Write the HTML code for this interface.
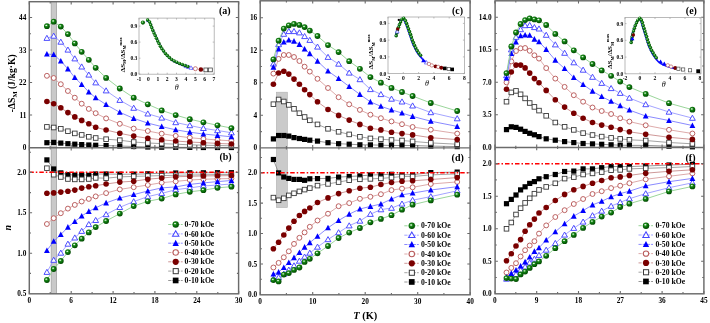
<!DOCTYPE html>
<html><head><meta charset="utf-8"><title>figure</title><style>html,body{margin:0;padding:0;background:#fff;}body{width:710px;height:323px;overflow:hidden;position:relative;font-family:"Liberation Serif", serif;}</style></head><body>
<svg width="710" height="323" viewBox="0 0 710 323" style="position:absolute;left:0;top:0" font-family="'Liberation Serif', serif">
<defs>
<radialGradient id="ggr" cx="0.4" cy="0.38" r="0.62"><stop offset="0" stop-color="#3aa83a"/><stop offset="0.55" stop-color="#0b740b"/><stop offset="1" stop-color="#024802"/></radialGradient>
<g id="gs"><circle r="2.9" fill="url(#ggr)"/><ellipse cx="-0.6" cy="-0.8" rx="1.0" ry="0.65" fill="#e8f8e8"/></g>
<clipPath id="ct0"><rect x="29.3" y="1.7" width="209.29999999999998" height="146.0"/></clipPath>
<clipPath id="cb0"><rect x="29.3" y="147.7" width="209.29999999999998" height="146.10000000000002"/></clipPath>
<clipPath id="ct1"><rect x="260.2" y="0.8" width="209.90000000000003" height="147.04999999999998"/></clipPath>
<clipPath id="cb1"><rect x="260.2" y="147.85" width="209.90000000000003" height="146.95000000000002"/></clipPath>
<clipPath id="ct2"><rect x="495.1" y="0.8" width="208.79999999999995" height="146.6"/></clipPath>
<clipPath id="cb2"><rect x="495.1" y="147.4" width="208.79999999999995" height="146.4"/></clipPath>
<filter id="nolcd" x="0" y="0" width="1" height="1"><feOffset dx="0" dy="0"/></filter>
</defs>
<g filter="url(#nolcd)">
<rect width="710" height="323" fill="#fff"/>
<rect x="51.2" y="1.5" width="5.4" height="292.1" fill="#c9c9c9" stroke="#a3a3a3" stroke-width="0.8"/>
<rect x="276.4" y="92.2" width="11.0" height="115.3" fill="#cacaca" stroke="#b0b0b0" stroke-width="0.6"/>
<g>
<polyline points="46.9,142.7 53.7,142.4 60.8,143.1 67.9,143.7 74.8,144.2 81.7,144.6 88.8,145.0 95.7,145.3 106.1,145.6 119.8,146.0 133.7,146.5 147.8,147.0 161.7,147.2 175.7,147.3 189.8,147.4 203.4,147.5 217.5,147.5 231.4,147.5" fill="none" stroke="#8a8a8a" stroke-width="0.9"/>
<rect x="44.3" y="140.1" width="5.2" height="5.2" fill="#000"/>
<rect x="51.1" y="139.8" width="5.2" height="5.2" fill="#000"/>
<rect x="58.2" y="140.5" width="5.2" height="5.2" fill="#000"/>
<rect x="65.3" y="141.1" width="5.2" height="5.2" fill="#000"/>
<rect x="72.2" y="141.6" width="5.2" height="5.2" fill="#000"/>
<rect x="79.1" y="142.0" width="5.2" height="5.2" fill="#000"/>
<rect x="86.2" y="142.4" width="5.2" height="5.2" fill="#000"/>
<rect x="93.1" y="142.7" width="5.2" height="5.2" fill="#000"/>
<rect x="103.5" y="143.0" width="5.2" height="5.2" fill="#000"/>
<rect x="117.2" y="143.4" width="5.2" height="5.2" fill="#000"/>
<rect x="131.1" y="143.9" width="5.2" height="5.2" fill="#000"/>
<rect x="145.2" y="144.4" width="5.2" height="5.2" fill="#000"/>
<rect x="159.1" y="144.6" width="5.2" height="5.2" fill="#000"/>
<rect x="173.1" y="144.7" width="5.2" height="5.2" fill="#000"/>
<rect x="187.2" y="144.8" width="5.2" height="5.2" fill="#000"/>
<rect x="200.8" y="144.9" width="5.2" height="5.2" fill="#000"/>
<rect x="214.9" y="144.9" width="5.2" height="5.2" fill="#000"/>
<rect x="228.8" y="144.9" width="5.2" height="5.2" fill="#000"/>
</g>
<g clip-path="url(#cb0)">
<polyline points="46.9,159.9 53.7,169.0 60.8,172.9 67.9,174.7 74.8,175.1 81.7,174.7 88.8,175.3 95.7,174.0 106.1,174.0 119.8,174.2 133.7,174.2 147.8,173.8 161.7,173.2 175.7,173.0 189.8,172.8 203.4,172.8 217.5,172.7 231.4,172.7" fill="none" stroke="#8a8a8a" stroke-width="0.9"/>
<rect x="44.3" y="157.3" width="5.2" height="5.2" fill="#000"/>
<rect x="51.1" y="166.4" width="5.2" height="5.2" fill="#000"/>
<rect x="58.2" y="170.3" width="5.2" height="5.2" fill="#000"/>
<rect x="65.3" y="172.1" width="5.2" height="5.2" fill="#000"/>
<rect x="72.2" y="172.5" width="5.2" height="5.2" fill="#000"/>
<rect x="79.1" y="172.1" width="5.2" height="5.2" fill="#000"/>
<rect x="86.2" y="172.7" width="5.2" height="5.2" fill="#000"/>
<rect x="93.1" y="171.4" width="5.2" height="5.2" fill="#000"/>
<rect x="103.5" y="171.4" width="5.2" height="5.2" fill="#000"/>
<rect x="117.2" y="171.6" width="5.2" height="5.2" fill="#000"/>
<rect x="131.1" y="171.6" width="5.2" height="5.2" fill="#000"/>
<rect x="145.2" y="171.2" width="5.2" height="5.2" fill="#000"/>
<rect x="159.1" y="170.6" width="5.2" height="5.2" fill="#000"/>
<rect x="173.1" y="170.4" width="5.2" height="5.2" fill="#000"/>
<rect x="187.2" y="170.2" width="5.2" height="5.2" fill="#000"/>
<rect x="200.8" y="170.2" width="5.2" height="5.2" fill="#000"/>
<rect x="214.9" y="170.1" width="5.2" height="5.2" fill="#000"/>
<rect x="228.8" y="170.1" width="5.2" height="5.2" fill="#000"/>
</g>
<g>
<polyline points="273.4,138.9 278.6,135.5 283.8,135.5 288.8,136.1 294.0,137.6 299.4,138.5 304.6,139.4 309.8,140.2 317.5,141.1 328.0,142.7 338.6,143.7 349.2,144.2 359.9,144.8 370.4,144.9 380.9,145.2 391.5,145.5 402.0,145.5 412.6,145.5 430.8,146.1 457.2,146.6" fill="none" stroke="#8a8a8a" stroke-width="0.9"/>
<rect x="270.8" y="136.3" width="5.2" height="5.2" fill="#000"/>
<rect x="276.0" y="132.9" width="5.2" height="5.2" fill="#000"/>
<rect x="281.2" y="132.9" width="5.2" height="5.2" fill="#000"/>
<rect x="286.2" y="133.5" width="5.2" height="5.2" fill="#000"/>
<rect x="291.4" y="135.0" width="5.2" height="5.2" fill="#000"/>
<rect x="296.8" y="135.9" width="5.2" height="5.2" fill="#000"/>
<rect x="302.0" y="136.8" width="5.2" height="5.2" fill="#000"/>
<rect x="307.2" y="137.6" width="5.2" height="5.2" fill="#000"/>
<rect x="314.9" y="138.5" width="5.2" height="5.2" fill="#000"/>
<rect x="325.4" y="140.1" width="5.2" height="5.2" fill="#000"/>
<rect x="336.0" y="141.1" width="5.2" height="5.2" fill="#000"/>
<rect x="346.6" y="141.6" width="5.2" height="5.2" fill="#000"/>
<rect x="357.3" y="142.2" width="5.2" height="5.2" fill="#000"/>
<rect x="367.8" y="142.3" width="5.2" height="5.2" fill="#000"/>
<rect x="378.3" y="142.6" width="5.2" height="5.2" fill="#000"/>
<rect x="388.9" y="142.9" width="5.2" height="5.2" fill="#000"/>
<rect x="399.4" y="142.9" width="5.2" height="5.2" fill="#000"/>
<rect x="410.0" y="142.9" width="5.2" height="5.2" fill="#000"/>
<rect x="428.2" y="143.5" width="5.2" height="5.2" fill="#000"/>
<rect x="454.6" y="144.0" width="5.2" height="5.2" fill="#000"/>
</g>
<g clip-path="url(#cb1)">
<polyline points="273.4,159.5 278.6,172.9 283.8,177.0 288.8,178.4 294.0,179.4 299.4,179.4 304.6,180.3 309.8,178.8 317.5,178.6 328.0,178.4 338.6,177.1 349.2,176.5 359.9,175.9 370.4,175.0 380.9,174.7 391.5,174.3 402.0,174.7 412.6,174.7 430.8,172.6 457.2,172.1" fill="none" stroke="#8a8a8a" stroke-width="0.9"/>
<rect x="270.8" y="156.9" width="5.2" height="5.2" fill="#000"/>
<rect x="276.0" y="170.3" width="5.2" height="5.2" fill="#000"/>
<rect x="281.2" y="174.4" width="5.2" height="5.2" fill="#000"/>
<rect x="286.2" y="175.8" width="5.2" height="5.2" fill="#000"/>
<rect x="291.4" y="176.8" width="5.2" height="5.2" fill="#000"/>
<rect x="296.8" y="176.8" width="5.2" height="5.2" fill="#000"/>
<rect x="302.0" y="177.7" width="5.2" height="5.2" fill="#000"/>
<rect x="307.2" y="176.2" width="5.2" height="5.2" fill="#000"/>
<rect x="314.9" y="176.0" width="5.2" height="5.2" fill="#000"/>
<rect x="325.4" y="175.8" width="5.2" height="5.2" fill="#000"/>
<rect x="336.0" y="174.5" width="5.2" height="5.2" fill="#000"/>
<rect x="346.6" y="173.9" width="5.2" height="5.2" fill="#000"/>
<rect x="357.3" y="173.3" width="5.2" height="5.2" fill="#000"/>
<rect x="367.8" y="172.4" width="5.2" height="5.2" fill="#000"/>
<rect x="378.3" y="172.1" width="5.2" height="5.2" fill="#000"/>
<rect x="388.9" y="171.7" width="5.2" height="5.2" fill="#000"/>
<rect x="399.4" y="172.1" width="5.2" height="5.2" fill="#000"/>
<rect x="410.0" y="172.1" width="5.2" height="5.2" fill="#000"/>
<rect x="428.2" y="170.0" width="5.2" height="5.2" fill="#000"/>
<rect x="454.6" y="169.5" width="5.2" height="5.2" fill="#000"/>
</g>
<g>
<polyline points="506.5,129.6 511.3,126.8 516.0,127.4 520.6,129.2 525.1,131.4 529.7,133.3 534.4,134.8 539.0,136.6 546.2,138.8 555.3,140.2 564.6,141.6 573.8,142.6 583.1,143.5 592.5,143.9 601.7,144.3 611.1,144.8 620.2,145.2 629.4,145.4 645.7,145.4 669.0,146.2 692.4,146.8" fill="none" stroke="#8a8a8a" stroke-width="0.9"/>
<rect x="503.9" y="127.0" width="5.2" height="5.2" fill="#000"/>
<rect x="508.7" y="124.2" width="5.2" height="5.2" fill="#000"/>
<rect x="513.4" y="124.8" width="5.2" height="5.2" fill="#000"/>
<rect x="518.0" y="126.6" width="5.2" height="5.2" fill="#000"/>
<rect x="522.5" y="128.8" width="5.2" height="5.2" fill="#000"/>
<rect x="527.1" y="130.7" width="5.2" height="5.2" fill="#000"/>
<rect x="531.8" y="132.2" width="5.2" height="5.2" fill="#000"/>
<rect x="536.4" y="134.0" width="5.2" height="5.2" fill="#000"/>
<rect x="543.6" y="136.2" width="5.2" height="5.2" fill="#000"/>
<rect x="552.7" y="137.6" width="5.2" height="5.2" fill="#000"/>
<rect x="562.0" y="139.0" width="5.2" height="5.2" fill="#000"/>
<rect x="571.2" y="140.0" width="5.2" height="5.2" fill="#000"/>
<rect x="580.5" y="140.9" width="5.2" height="5.2" fill="#000"/>
<rect x="589.9" y="141.3" width="5.2" height="5.2" fill="#000"/>
<rect x="599.1" y="141.7" width="5.2" height="5.2" fill="#000"/>
<rect x="608.5" y="142.2" width="5.2" height="5.2" fill="#000"/>
<rect x="617.6" y="142.6" width="5.2" height="5.2" fill="#000"/>
<rect x="626.8" y="142.8" width="5.2" height="5.2" fill="#000"/>
<rect x="643.1" y="142.8" width="5.2" height="5.2" fill="#000"/>
<rect x="666.4" y="143.6" width="5.2" height="5.2" fill="#000"/>
<rect x="689.8" y="144.2" width="5.2" height="5.2" fill="#000"/>
</g>
<g clip-path="url(#cb2)">
<polyline points="506.5,203.7 511.3,199.4 516.0,195.0 520.6,189.9 525.1,186.8 529.7,183.4 534.4,181.6 539.0,178.8 546.2,176.7 555.3,174.5 564.6,171.5 573.8,171.1 583.1,168.9 592.5,168.9 601.7,167.7 611.1,166.5 620.2,166.5 629.4,166.5 645.7,166.0 669.0,165.0 692.4,164.3" fill="none" stroke="#8a8a8a" stroke-width="0.9"/>
<rect x="503.9" y="201.1" width="5.2" height="5.2" fill="#000"/>
<rect x="508.7" y="196.8" width="5.2" height="5.2" fill="#000"/>
<rect x="513.4" y="192.4" width="5.2" height="5.2" fill="#000"/>
<rect x="518.0" y="187.3" width="5.2" height="5.2" fill="#000"/>
<rect x="522.5" y="184.2" width="5.2" height="5.2" fill="#000"/>
<rect x="527.1" y="180.8" width="5.2" height="5.2" fill="#000"/>
<rect x="531.8" y="179.0" width="5.2" height="5.2" fill="#000"/>
<rect x="536.4" y="176.2" width="5.2" height="5.2" fill="#000"/>
<rect x="543.6" y="174.1" width="5.2" height="5.2" fill="#000"/>
<rect x="552.7" y="171.9" width="5.2" height="5.2" fill="#000"/>
<rect x="562.0" y="168.9" width="5.2" height="5.2" fill="#000"/>
<rect x="571.2" y="168.5" width="5.2" height="5.2" fill="#000"/>
<rect x="580.5" y="166.3" width="5.2" height="5.2" fill="#000"/>
<rect x="589.9" y="166.3" width="5.2" height="5.2" fill="#000"/>
<rect x="599.1" y="165.1" width="5.2" height="5.2" fill="#000"/>
<rect x="608.5" y="163.9" width="5.2" height="5.2" fill="#000"/>
<rect x="617.6" y="163.9" width="5.2" height="5.2" fill="#000"/>
<rect x="626.8" y="163.9" width="5.2" height="5.2" fill="#000"/>
<rect x="643.1" y="163.4" width="5.2" height="5.2" fill="#000"/>
<rect x="666.4" y="162.4" width="5.2" height="5.2" fill="#000"/>
<rect x="689.8" y="161.7" width="5.2" height="5.2" fill="#000"/>
</g>
<g>
<polyline points="46.9,126.9 53.7,127.5 60.8,128.8 67.9,131.2 74.8,133.4 81.7,134.9 88.8,136.8 95.7,138.0 106.1,139.2 119.8,140.2 133.7,142.0 147.8,143.0 161.7,143.6 175.7,144.2 189.8,144.8 203.4,145.2 217.5,145.5 231.4,145.8" fill="none" stroke="#9a9a9a" stroke-width="0.9"/>
<rect x="44.6" y="124.6" width="4.6" height="4.6" fill="#fff" stroke="#3a3a3a" stroke-width="0.90"/>
<rect x="51.4" y="125.2" width="4.6" height="4.6" fill="#fff" stroke="#3a3a3a" stroke-width="0.90"/>
<rect x="58.5" y="126.5" width="4.6" height="4.6" fill="#fff" stroke="#3a3a3a" stroke-width="0.90"/>
<rect x="65.6" y="128.9" width="4.6" height="4.6" fill="#fff" stroke="#3a3a3a" stroke-width="0.90"/>
<rect x="72.5" y="131.1" width="4.6" height="4.6" fill="#fff" stroke="#3a3a3a" stroke-width="0.90"/>
<rect x="79.4" y="132.6" width="4.6" height="4.6" fill="#fff" stroke="#3a3a3a" stroke-width="0.90"/>
<rect x="86.5" y="134.5" width="4.6" height="4.6" fill="#fff" stroke="#3a3a3a" stroke-width="0.90"/>
<rect x="93.4" y="135.7" width="4.6" height="4.6" fill="#fff" stroke="#3a3a3a" stroke-width="0.90"/>
<rect x="103.8" y="136.9" width="4.6" height="4.6" fill="#fff" stroke="#3a3a3a" stroke-width="0.90"/>
<rect x="117.5" y="137.9" width="4.6" height="4.6" fill="#fff" stroke="#3a3a3a" stroke-width="0.90"/>
<rect x="131.4" y="139.7" width="4.6" height="4.6" fill="#fff" stroke="#3a3a3a" stroke-width="0.90"/>
<rect x="145.5" y="140.7" width="4.6" height="4.6" fill="#fff" stroke="#3a3a3a" stroke-width="0.90"/>
<rect x="159.4" y="141.3" width="4.6" height="4.6" fill="#fff" stroke="#3a3a3a" stroke-width="0.90"/>
<rect x="173.4" y="141.9" width="4.6" height="4.6" fill="#fff" stroke="#3a3a3a" stroke-width="0.90"/>
<rect x="187.5" y="142.5" width="4.6" height="4.6" fill="#fff" stroke="#3a3a3a" stroke-width="0.90"/>
<rect x="201.1" y="142.9" width="4.6" height="4.6" fill="#fff" stroke="#3a3a3a" stroke-width="0.90"/>
<rect x="215.2" y="143.2" width="4.6" height="4.6" fill="#fff" stroke="#3a3a3a" stroke-width="0.90"/>
<rect x="229.1" y="143.5" width="4.6" height="4.6" fill="#fff" stroke="#3a3a3a" stroke-width="0.90"/>
</g>
<g clip-path="url(#cb0)">
<polyline points="46.9,168.2 53.7,174.7 60.8,177.0 67.9,179.0 74.8,179.4 81.7,179.4 88.8,179.0 95.7,177.9 106.1,178.2 119.8,176.9 133.7,176.4 147.8,176.0 161.7,175.6 175.7,175.3 189.8,175.0 203.4,174.8 217.5,174.6 231.4,174.5" fill="none" stroke="#9a9a9a" stroke-width="0.9"/>
<rect x="44.6" y="165.9" width="4.6" height="4.6" fill="#fff" stroke="#3a3a3a" stroke-width="0.90"/>
<rect x="51.4" y="172.4" width="4.6" height="4.6" fill="#fff" stroke="#3a3a3a" stroke-width="0.90"/>
<rect x="58.5" y="174.7" width="4.6" height="4.6" fill="#fff" stroke="#3a3a3a" stroke-width="0.90"/>
<rect x="65.6" y="176.7" width="4.6" height="4.6" fill="#fff" stroke="#3a3a3a" stroke-width="0.90"/>
<rect x="72.5" y="177.1" width="4.6" height="4.6" fill="#fff" stroke="#3a3a3a" stroke-width="0.90"/>
<rect x="79.4" y="177.1" width="4.6" height="4.6" fill="#fff" stroke="#3a3a3a" stroke-width="0.90"/>
<rect x="86.5" y="176.7" width="4.6" height="4.6" fill="#fff" stroke="#3a3a3a" stroke-width="0.90"/>
<rect x="93.4" y="175.6" width="4.6" height="4.6" fill="#fff" stroke="#3a3a3a" stroke-width="0.90"/>
<rect x="103.8" y="175.9" width="4.6" height="4.6" fill="#fff" stroke="#3a3a3a" stroke-width="0.90"/>
<rect x="117.5" y="174.6" width="4.6" height="4.6" fill="#fff" stroke="#3a3a3a" stroke-width="0.90"/>
<rect x="131.4" y="174.1" width="4.6" height="4.6" fill="#fff" stroke="#3a3a3a" stroke-width="0.90"/>
<rect x="145.5" y="173.7" width="4.6" height="4.6" fill="#fff" stroke="#3a3a3a" stroke-width="0.90"/>
<rect x="159.4" y="173.3" width="4.6" height="4.6" fill="#fff" stroke="#3a3a3a" stroke-width="0.90"/>
<rect x="173.4" y="173.0" width="4.6" height="4.6" fill="#fff" stroke="#3a3a3a" stroke-width="0.90"/>
<rect x="187.5" y="172.7" width="4.6" height="4.6" fill="#fff" stroke="#3a3a3a" stroke-width="0.90"/>
<rect x="201.1" y="172.5" width="4.6" height="4.6" fill="#fff" stroke="#3a3a3a" stroke-width="0.90"/>
<rect x="215.2" y="172.3" width="4.6" height="4.6" fill="#fff" stroke="#3a3a3a" stroke-width="0.90"/>
<rect x="229.1" y="172.2" width="4.6" height="4.6" fill="#fff" stroke="#3a3a3a" stroke-width="0.90"/>
</g>
<g>
<polyline points="273.4,104.2 278.6,99.5 283.8,101.5 288.8,104.9 294.0,108.8 299.4,113.2 304.6,117.0 309.8,120.3 317.5,124.4 328.0,128.8 338.6,131.8 349.2,134.4 359.9,136.8 370.4,138.4 380.9,139.2 391.5,140.0 402.0,140.5 412.6,141.4 430.8,142.9 457.2,144.2" fill="none" stroke="#9a9a9a" stroke-width="0.9"/>
<rect x="271.1" y="101.9" width="4.6" height="4.6" fill="#fff" stroke="#3a3a3a" stroke-width="0.90"/>
<rect x="276.3" y="97.2" width="4.6" height="4.6" fill="#fff" stroke="#3a3a3a" stroke-width="0.90"/>
<rect x="281.5" y="99.2" width="4.6" height="4.6" fill="#fff" stroke="#3a3a3a" stroke-width="0.90"/>
<rect x="286.5" y="102.6" width="4.6" height="4.6" fill="#fff" stroke="#3a3a3a" stroke-width="0.90"/>
<rect x="291.7" y="106.5" width="4.6" height="4.6" fill="#fff" stroke="#3a3a3a" stroke-width="0.90"/>
<rect x="297.1" y="110.9" width="4.6" height="4.6" fill="#fff" stroke="#3a3a3a" stroke-width="0.90"/>
<rect x="302.3" y="114.7" width="4.6" height="4.6" fill="#fff" stroke="#3a3a3a" stroke-width="0.90"/>
<rect x="307.5" y="118.0" width="4.6" height="4.6" fill="#fff" stroke="#3a3a3a" stroke-width="0.90"/>
<rect x="315.2" y="122.1" width="4.6" height="4.6" fill="#fff" stroke="#3a3a3a" stroke-width="0.90"/>
<rect x="325.7" y="126.5" width="4.6" height="4.6" fill="#fff" stroke="#3a3a3a" stroke-width="0.90"/>
<rect x="336.3" y="129.5" width="4.6" height="4.6" fill="#fff" stroke="#3a3a3a" stroke-width="0.90"/>
<rect x="346.9" y="132.1" width="4.6" height="4.6" fill="#fff" stroke="#3a3a3a" stroke-width="0.90"/>
<rect x="357.6" y="134.5" width="4.6" height="4.6" fill="#fff" stroke="#3a3a3a" stroke-width="0.90"/>
<rect x="368.1" y="136.1" width="4.6" height="4.6" fill="#fff" stroke="#3a3a3a" stroke-width="0.90"/>
<rect x="378.6" y="136.9" width="4.6" height="4.6" fill="#fff" stroke="#3a3a3a" stroke-width="0.90"/>
<rect x="389.2" y="137.7" width="4.6" height="4.6" fill="#fff" stroke="#3a3a3a" stroke-width="0.90"/>
<rect x="399.7" y="138.2" width="4.6" height="4.6" fill="#fff" stroke="#3a3a3a" stroke-width="0.90"/>
<rect x="410.3" y="139.1" width="4.6" height="4.6" fill="#fff" stroke="#3a3a3a" stroke-width="0.90"/>
<rect x="428.5" y="140.6" width="4.6" height="4.6" fill="#fff" stroke="#3a3a3a" stroke-width="0.90"/>
<rect x="454.9" y="141.9" width="4.6" height="4.6" fill="#fff" stroke="#3a3a3a" stroke-width="0.90"/>
</g>
<g clip-path="url(#cb1)">
<polyline points="273.4,197.6 278.6,200.3 283.8,198.3 288.8,195.4 294.0,193.3 299.4,191.4 304.6,189.6 309.8,188.1 317.5,185.6 328.0,183.9 338.6,182.1 349.2,180.2 359.9,179.3 370.4,178.9 380.9,178.4 391.5,177.6 402.0,176.5 412.6,176.5 430.8,174.9 457.2,173.9" fill="none" stroke="#9a9a9a" stroke-width="0.9"/>
<rect x="271.1" y="195.3" width="4.6" height="4.6" fill="#fff" stroke="#3a3a3a" stroke-width="0.90"/>
<rect x="276.3" y="198.0" width="4.6" height="4.6" fill="#fff" stroke="#3a3a3a" stroke-width="0.90"/>
<rect x="281.5" y="196.0" width="4.6" height="4.6" fill="#fff" stroke="#3a3a3a" stroke-width="0.90"/>
<rect x="286.5" y="193.1" width="4.6" height="4.6" fill="#fff" stroke="#3a3a3a" stroke-width="0.90"/>
<rect x="291.7" y="191.0" width="4.6" height="4.6" fill="#fff" stroke="#3a3a3a" stroke-width="0.90"/>
<rect x="297.1" y="189.1" width="4.6" height="4.6" fill="#fff" stroke="#3a3a3a" stroke-width="0.90"/>
<rect x="302.3" y="187.3" width="4.6" height="4.6" fill="#fff" stroke="#3a3a3a" stroke-width="0.90"/>
<rect x="307.5" y="185.8" width="4.6" height="4.6" fill="#fff" stroke="#3a3a3a" stroke-width="0.90"/>
<rect x="315.2" y="183.3" width="4.6" height="4.6" fill="#fff" stroke="#3a3a3a" stroke-width="0.90"/>
<rect x="325.7" y="181.6" width="4.6" height="4.6" fill="#fff" stroke="#3a3a3a" stroke-width="0.90"/>
<rect x="336.3" y="179.8" width="4.6" height="4.6" fill="#fff" stroke="#3a3a3a" stroke-width="0.90"/>
<rect x="346.9" y="177.9" width="4.6" height="4.6" fill="#fff" stroke="#3a3a3a" stroke-width="0.90"/>
<rect x="357.6" y="177.0" width="4.6" height="4.6" fill="#fff" stroke="#3a3a3a" stroke-width="0.90"/>
<rect x="368.1" y="176.6" width="4.6" height="4.6" fill="#fff" stroke="#3a3a3a" stroke-width="0.90"/>
<rect x="378.6" y="176.1" width="4.6" height="4.6" fill="#fff" stroke="#3a3a3a" stroke-width="0.90"/>
<rect x="389.2" y="175.3" width="4.6" height="4.6" fill="#fff" stroke="#3a3a3a" stroke-width="0.90"/>
<rect x="399.7" y="174.2" width="4.6" height="4.6" fill="#fff" stroke="#3a3a3a" stroke-width="0.90"/>
<rect x="410.3" y="174.2" width="4.6" height="4.6" fill="#fff" stroke="#3a3a3a" stroke-width="0.90"/>
<rect x="428.5" y="172.6" width="4.6" height="4.6" fill="#fff" stroke="#3a3a3a" stroke-width="0.90"/>
<rect x="454.9" y="171.6" width="4.6" height="4.6" fill="#fff" stroke="#3a3a3a" stroke-width="0.90"/>
</g>
<g>
<polyline points="506.5,101.7 511.3,92.4 516.0,90.9 520.6,94.3 525.1,98.4 529.7,103.0 534.4,106.9 539.0,110.6 546.2,115.8 555.3,122.5 564.6,126.8 573.8,129.9 583.1,133.1 592.5,135.0 601.7,136.6 611.1,137.9 620.2,138.9 629.4,139.8 645.7,140.5 669.0,142.5 692.4,143.8" fill="none" stroke="#9a9a9a" stroke-width="0.9"/>
<rect x="504.2" y="99.4" width="4.6" height="4.6" fill="#fff" stroke="#3a3a3a" stroke-width="0.90"/>
<rect x="509.0" y="90.1" width="4.6" height="4.6" fill="#fff" stroke="#3a3a3a" stroke-width="0.90"/>
<rect x="513.7" y="88.6" width="4.6" height="4.6" fill="#fff" stroke="#3a3a3a" stroke-width="0.90"/>
<rect x="518.3" y="92.0" width="4.6" height="4.6" fill="#fff" stroke="#3a3a3a" stroke-width="0.90"/>
<rect x="522.8" y="96.1" width="4.6" height="4.6" fill="#fff" stroke="#3a3a3a" stroke-width="0.90"/>
<rect x="527.4" y="100.7" width="4.6" height="4.6" fill="#fff" stroke="#3a3a3a" stroke-width="0.90"/>
<rect x="532.1" y="104.6" width="4.6" height="4.6" fill="#fff" stroke="#3a3a3a" stroke-width="0.90"/>
<rect x="536.7" y="108.3" width="4.6" height="4.6" fill="#fff" stroke="#3a3a3a" stroke-width="0.90"/>
<rect x="543.9" y="113.5" width="4.6" height="4.6" fill="#fff" stroke="#3a3a3a" stroke-width="0.90"/>
<rect x="553.0" y="120.2" width="4.6" height="4.6" fill="#fff" stroke="#3a3a3a" stroke-width="0.90"/>
<rect x="562.3" y="124.5" width="4.6" height="4.6" fill="#fff" stroke="#3a3a3a" stroke-width="0.90"/>
<rect x="571.5" y="127.6" width="4.6" height="4.6" fill="#fff" stroke="#3a3a3a" stroke-width="0.90"/>
<rect x="580.8" y="130.8" width="4.6" height="4.6" fill="#fff" stroke="#3a3a3a" stroke-width="0.90"/>
<rect x="590.2" y="132.7" width="4.6" height="4.6" fill="#fff" stroke="#3a3a3a" stroke-width="0.90"/>
<rect x="599.4" y="134.3" width="4.6" height="4.6" fill="#fff" stroke="#3a3a3a" stroke-width="0.90"/>
<rect x="608.8" y="135.6" width="4.6" height="4.6" fill="#fff" stroke="#3a3a3a" stroke-width="0.90"/>
<rect x="617.9" y="136.6" width="4.6" height="4.6" fill="#fff" stroke="#3a3a3a" stroke-width="0.90"/>
<rect x="627.1" y="137.5" width="4.6" height="4.6" fill="#fff" stroke="#3a3a3a" stroke-width="0.90"/>
<rect x="643.4" y="138.2" width="4.6" height="4.6" fill="#fff" stroke="#3a3a3a" stroke-width="0.90"/>
<rect x="666.7" y="140.2" width="4.6" height="4.6" fill="#fff" stroke="#3a3a3a" stroke-width="0.90"/>
<rect x="690.1" y="141.5" width="4.6" height="4.6" fill="#fff" stroke="#3a3a3a" stroke-width="0.90"/>
</g>
<g clip-path="url(#cb2)">
<polyline points="506.5,228.8 511.3,222.5 516.0,214.5 520.6,208.2 525.1,202.9 529.7,198.3 534.4,193.7 539.0,189.9 546.2,186.9 555.3,183.3 564.6,178.6 573.8,177.1 583.1,174.5 592.5,173.4 601.7,172.1 611.1,170.2 620.2,169.9 629.4,168.9 645.7,168.3 669.0,167.6 692.4,166.5" fill="none" stroke="#9a9a9a" stroke-width="0.9"/>
<rect x="504.2" y="226.5" width="4.6" height="4.6" fill="#fff" stroke="#3a3a3a" stroke-width="0.90"/>
<rect x="509.0" y="220.2" width="4.6" height="4.6" fill="#fff" stroke="#3a3a3a" stroke-width="0.90"/>
<rect x="513.7" y="212.2" width="4.6" height="4.6" fill="#fff" stroke="#3a3a3a" stroke-width="0.90"/>
<rect x="518.3" y="205.9" width="4.6" height="4.6" fill="#fff" stroke="#3a3a3a" stroke-width="0.90"/>
<rect x="522.8" y="200.6" width="4.6" height="4.6" fill="#fff" stroke="#3a3a3a" stroke-width="0.90"/>
<rect x="527.4" y="196.0" width="4.6" height="4.6" fill="#fff" stroke="#3a3a3a" stroke-width="0.90"/>
<rect x="532.1" y="191.4" width="4.6" height="4.6" fill="#fff" stroke="#3a3a3a" stroke-width="0.90"/>
<rect x="536.7" y="187.6" width="4.6" height="4.6" fill="#fff" stroke="#3a3a3a" stroke-width="0.90"/>
<rect x="543.9" y="184.6" width="4.6" height="4.6" fill="#fff" stroke="#3a3a3a" stroke-width="0.90"/>
<rect x="553.0" y="181.0" width="4.6" height="4.6" fill="#fff" stroke="#3a3a3a" stroke-width="0.90"/>
<rect x="562.3" y="176.3" width="4.6" height="4.6" fill="#fff" stroke="#3a3a3a" stroke-width="0.90"/>
<rect x="571.5" y="174.8" width="4.6" height="4.6" fill="#fff" stroke="#3a3a3a" stroke-width="0.90"/>
<rect x="580.8" y="172.2" width="4.6" height="4.6" fill="#fff" stroke="#3a3a3a" stroke-width="0.90"/>
<rect x="590.2" y="171.1" width="4.6" height="4.6" fill="#fff" stroke="#3a3a3a" stroke-width="0.90"/>
<rect x="599.4" y="169.8" width="4.6" height="4.6" fill="#fff" stroke="#3a3a3a" stroke-width="0.90"/>
<rect x="608.8" y="167.9" width="4.6" height="4.6" fill="#fff" stroke="#3a3a3a" stroke-width="0.90"/>
<rect x="617.9" y="167.6" width="4.6" height="4.6" fill="#fff" stroke="#3a3a3a" stroke-width="0.90"/>
<rect x="627.1" y="166.6" width="4.6" height="4.6" fill="#fff" stroke="#3a3a3a" stroke-width="0.90"/>
<rect x="643.4" y="166.0" width="4.6" height="4.6" fill="#fff" stroke="#3a3a3a" stroke-width="0.90"/>
<rect x="666.7" y="165.3" width="4.6" height="4.6" fill="#fff" stroke="#3a3a3a" stroke-width="0.90"/>
<rect x="690.1" y="164.2" width="4.6" height="4.6" fill="#fff" stroke="#3a3a3a" stroke-width="0.90"/>
</g>
<g>
<polyline points="46.9,75.8 53.7,78.0 60.8,84.2 67.9,91.0 74.8,97.7 81.7,103.7 88.8,108.9 95.7,113.2 106.1,118.4 119.8,123.8 133.7,128.6 147.8,131.0 161.7,133.7 175.7,135.9 189.8,137.7 203.4,138.9 217.5,140.0 231.4,140.8" fill="none" stroke="#d9a0a0" stroke-width="0.9"/>
<circle cx="46.9" cy="75.8" r="2.45" fill="#fff" stroke="#b85a5a" stroke-width="0.95"/>
<circle cx="53.7" cy="78.0" r="2.45" fill="#fff" stroke="#b85a5a" stroke-width="0.95"/>
<circle cx="60.8" cy="84.2" r="2.45" fill="#fff" stroke="#b85a5a" stroke-width="0.95"/>
<circle cx="67.9" cy="91.0" r="2.45" fill="#fff" stroke="#b85a5a" stroke-width="0.95"/>
<circle cx="74.8" cy="97.7" r="2.45" fill="#fff" stroke="#b85a5a" stroke-width="0.95"/>
<circle cx="81.7" cy="103.7" r="2.45" fill="#fff" stroke="#b85a5a" stroke-width="0.95"/>
<circle cx="88.8" cy="108.9" r="2.45" fill="#fff" stroke="#b85a5a" stroke-width="0.95"/>
<circle cx="95.7" cy="113.2" r="2.45" fill="#fff" stroke="#b85a5a" stroke-width="0.95"/>
<circle cx="106.1" cy="118.4" r="2.45" fill="#fff" stroke="#b85a5a" stroke-width="0.95"/>
<circle cx="119.8" cy="123.8" r="2.45" fill="#fff" stroke="#b85a5a" stroke-width="0.95"/>
<circle cx="133.7" cy="128.6" r="2.45" fill="#fff" stroke="#b85a5a" stroke-width="0.95"/>
<circle cx="147.8" cy="131.0" r="2.45" fill="#fff" stroke="#b85a5a" stroke-width="0.95"/>
<circle cx="161.7" cy="133.7" r="2.45" fill="#fff" stroke="#b85a5a" stroke-width="0.95"/>
<circle cx="175.7" cy="135.9" r="2.45" fill="#fff" stroke="#b85a5a" stroke-width="0.95"/>
<circle cx="189.8" cy="137.7" r="2.45" fill="#fff" stroke="#b85a5a" stroke-width="0.95"/>
<circle cx="203.4" cy="138.9" r="2.45" fill="#fff" stroke="#b85a5a" stroke-width="0.95"/>
<circle cx="217.5" cy="140.0" r="2.45" fill="#fff" stroke="#b85a5a" stroke-width="0.95"/>
<circle cx="231.4" cy="140.8" r="2.45" fill="#fff" stroke="#b85a5a" stroke-width="0.95"/>
</g>
<g clip-path="url(#cb0)">
<polyline points="46.9,224.0 53.7,218.2 60.8,213.2 67.9,208.6 74.8,204.9 81.7,201.5 88.8,198.9 95.7,196.4 106.1,193.1 119.8,189.4 133.7,187.2 147.8,185.0 161.7,182.7 175.7,181.4 189.8,180.0 203.4,179.3 217.5,178.8 231.4,178.5" fill="none" stroke="#d9a0a0" stroke-width="0.9"/>
<circle cx="46.9" cy="224.0" r="2.45" fill="#fff" stroke="#b85a5a" stroke-width="0.95"/>
<circle cx="53.7" cy="218.2" r="2.45" fill="#fff" stroke="#b85a5a" stroke-width="0.95"/>
<circle cx="60.8" cy="213.2" r="2.45" fill="#fff" stroke="#b85a5a" stroke-width="0.95"/>
<circle cx="67.9" cy="208.6" r="2.45" fill="#fff" stroke="#b85a5a" stroke-width="0.95"/>
<circle cx="74.8" cy="204.9" r="2.45" fill="#fff" stroke="#b85a5a" stroke-width="0.95"/>
<circle cx="81.7" cy="201.5" r="2.45" fill="#fff" stroke="#b85a5a" stroke-width="0.95"/>
<circle cx="88.8" cy="198.9" r="2.45" fill="#fff" stroke="#b85a5a" stroke-width="0.95"/>
<circle cx="95.7" cy="196.4" r="2.45" fill="#fff" stroke="#b85a5a" stroke-width="0.95"/>
<circle cx="106.1" cy="193.1" r="2.45" fill="#fff" stroke="#b85a5a" stroke-width="0.95"/>
<circle cx="119.8" cy="189.4" r="2.45" fill="#fff" stroke="#b85a5a" stroke-width="0.95"/>
<circle cx="133.7" cy="187.2" r="2.45" fill="#fff" stroke="#b85a5a" stroke-width="0.95"/>
<circle cx="147.8" cy="185.0" r="2.45" fill="#fff" stroke="#b85a5a" stroke-width="0.95"/>
<circle cx="161.7" cy="182.7" r="2.45" fill="#fff" stroke="#b85a5a" stroke-width="0.95"/>
<circle cx="175.7" cy="181.4" r="2.45" fill="#fff" stroke="#b85a5a" stroke-width="0.95"/>
<circle cx="189.8" cy="180.0" r="2.45" fill="#fff" stroke="#b85a5a" stroke-width="0.95"/>
<circle cx="203.4" cy="179.3" r="2.45" fill="#fff" stroke="#b85a5a" stroke-width="0.95"/>
<circle cx="217.5" cy="178.8" r="2.45" fill="#fff" stroke="#b85a5a" stroke-width="0.95"/>
<circle cx="231.4" cy="178.5" r="2.45" fill="#fff" stroke="#b85a5a" stroke-width="0.95"/>
</g>
<g>
<polyline points="273.4,73.6 278.6,58.9 283.8,55.0 288.8,55.0 294.0,57.0 299.4,61.0 304.6,66.7 309.8,71.6 317.5,78.8 328.0,88.0 338.6,97.2 349.2,104.3 359.9,109.9 370.4,114.7 380.9,118.2 391.5,121.4 402.0,124.2 412.6,127.0 430.8,129.7 457.2,133.6" fill="none" stroke="#d9a0a0" stroke-width="0.9"/>
<circle cx="273.4" cy="73.6" r="2.45" fill="#fff" stroke="#b85a5a" stroke-width="0.95"/>
<circle cx="278.6" cy="58.9" r="2.45" fill="#fff" stroke="#b85a5a" stroke-width="0.95"/>
<circle cx="283.8" cy="55.0" r="2.45" fill="#fff" stroke="#b85a5a" stroke-width="0.95"/>
<circle cx="288.8" cy="55.0" r="2.45" fill="#fff" stroke="#b85a5a" stroke-width="0.95"/>
<circle cx="294.0" cy="57.0" r="2.45" fill="#fff" stroke="#b85a5a" stroke-width="0.95"/>
<circle cx="299.4" cy="61.0" r="2.45" fill="#fff" stroke="#b85a5a" stroke-width="0.95"/>
<circle cx="304.6" cy="66.7" r="2.45" fill="#fff" stroke="#b85a5a" stroke-width="0.95"/>
<circle cx="309.8" cy="71.6" r="2.45" fill="#fff" stroke="#b85a5a" stroke-width="0.95"/>
<circle cx="317.5" cy="78.8" r="2.45" fill="#fff" stroke="#b85a5a" stroke-width="0.95"/>
<circle cx="328.0" cy="88.0" r="2.45" fill="#fff" stroke="#b85a5a" stroke-width="0.95"/>
<circle cx="338.6" cy="97.2" r="2.45" fill="#fff" stroke="#b85a5a" stroke-width="0.95"/>
<circle cx="349.2" cy="104.3" r="2.45" fill="#fff" stroke="#b85a5a" stroke-width="0.95"/>
<circle cx="359.9" cy="109.9" r="2.45" fill="#fff" stroke="#b85a5a" stroke-width="0.95"/>
<circle cx="370.4" cy="114.7" r="2.45" fill="#fff" stroke="#b85a5a" stroke-width="0.95"/>
<circle cx="380.9" cy="118.2" r="2.45" fill="#fff" stroke="#b85a5a" stroke-width="0.95"/>
<circle cx="391.5" cy="121.4" r="2.45" fill="#fff" stroke="#b85a5a" stroke-width="0.95"/>
<circle cx="402.0" cy="124.2" r="2.45" fill="#fff" stroke="#b85a5a" stroke-width="0.95"/>
<circle cx="412.6" cy="127.0" r="2.45" fill="#fff" stroke="#b85a5a" stroke-width="0.95"/>
<circle cx="430.8" cy="129.7" r="2.45" fill="#fff" stroke="#b85a5a" stroke-width="0.95"/>
<circle cx="457.2" cy="133.6" r="2.45" fill="#fff" stroke="#b85a5a" stroke-width="0.95"/>
</g>
<g clip-path="url(#cb1)">
<polyline points="273.4,267.5 278.6,262.9 283.8,257.3 288.8,251.3 294.0,243.9 299.4,237.8 304.6,232.4 309.8,226.8 317.5,220.5 328.0,213.7 338.6,206.2 349.2,203.1 359.9,198.8 370.4,196.8 380.9,194.2 391.5,190.1 402.0,188.6 412.6,187.3 430.8,184.0 457.2,181.9" fill="none" stroke="#d9a0a0" stroke-width="0.9"/>
<circle cx="273.4" cy="267.5" r="2.45" fill="#fff" stroke="#b85a5a" stroke-width="0.95"/>
<circle cx="278.6" cy="262.9" r="2.45" fill="#fff" stroke="#b85a5a" stroke-width="0.95"/>
<circle cx="283.8" cy="257.3" r="2.45" fill="#fff" stroke="#b85a5a" stroke-width="0.95"/>
<circle cx="288.8" cy="251.3" r="2.45" fill="#fff" stroke="#b85a5a" stroke-width="0.95"/>
<circle cx="294.0" cy="243.9" r="2.45" fill="#fff" stroke="#b85a5a" stroke-width="0.95"/>
<circle cx="299.4" cy="237.8" r="2.45" fill="#fff" stroke="#b85a5a" stroke-width="0.95"/>
<circle cx="304.6" cy="232.4" r="2.45" fill="#fff" stroke="#b85a5a" stroke-width="0.95"/>
<circle cx="309.8" cy="226.8" r="2.45" fill="#fff" stroke="#b85a5a" stroke-width="0.95"/>
<circle cx="317.5" cy="220.5" r="2.45" fill="#fff" stroke="#b85a5a" stroke-width="0.95"/>
<circle cx="328.0" cy="213.7" r="2.45" fill="#fff" stroke="#b85a5a" stroke-width="0.95"/>
<circle cx="338.6" cy="206.2" r="2.45" fill="#fff" stroke="#b85a5a" stroke-width="0.95"/>
<circle cx="349.2" cy="203.1" r="2.45" fill="#fff" stroke="#b85a5a" stroke-width="0.95"/>
<circle cx="359.9" cy="198.8" r="2.45" fill="#fff" stroke="#b85a5a" stroke-width="0.95"/>
<circle cx="370.4" cy="196.8" r="2.45" fill="#fff" stroke="#b85a5a" stroke-width="0.95"/>
<circle cx="380.9" cy="194.2" r="2.45" fill="#fff" stroke="#b85a5a" stroke-width="0.95"/>
<circle cx="391.5" cy="190.1" r="2.45" fill="#fff" stroke="#b85a5a" stroke-width="0.95"/>
<circle cx="402.0" cy="188.6" r="2.45" fill="#fff" stroke="#b85a5a" stroke-width="0.95"/>
<circle cx="412.6" cy="187.3" r="2.45" fill="#fff" stroke="#b85a5a" stroke-width="0.95"/>
<circle cx="430.8" cy="184.0" r="2.45" fill="#fff" stroke="#b85a5a" stroke-width="0.95"/>
<circle cx="457.2" cy="181.9" r="2.45" fill="#fff" stroke="#b85a5a" stroke-width="0.95"/>
</g>
<g>
<polyline points="506.5,82.4 511.3,61.4 516.0,51.0 520.6,48.3 525.1,48.0 529.7,50.8 534.4,55.3 539.0,58.6 546.2,68.1 555.3,78.6 564.6,86.9 573.8,95.2 583.1,101.7 592.5,107.5 601.7,111.0 611.1,114.0 620.2,118.2 629.4,121.6 645.7,125.3 669.0,129.8 692.4,133.5" fill="none" stroke="#d9a0a0" stroke-width="0.9"/>
<circle cx="506.5" cy="82.4" r="2.45" fill="#fff" stroke="#b85a5a" stroke-width="0.95"/>
<circle cx="511.3" cy="61.4" r="2.45" fill="#fff" stroke="#b85a5a" stroke-width="0.95"/>
<circle cx="516.0" cy="51.0" r="2.45" fill="#fff" stroke="#b85a5a" stroke-width="0.95"/>
<circle cx="520.6" cy="48.3" r="2.45" fill="#fff" stroke="#b85a5a" stroke-width="0.95"/>
<circle cx="525.1" cy="48.0" r="2.45" fill="#fff" stroke="#b85a5a" stroke-width="0.95"/>
<circle cx="529.7" cy="50.8" r="2.45" fill="#fff" stroke="#b85a5a" stroke-width="0.95"/>
<circle cx="534.4" cy="55.3" r="2.45" fill="#fff" stroke="#b85a5a" stroke-width="0.95"/>
<circle cx="539.0" cy="58.6" r="2.45" fill="#fff" stroke="#b85a5a" stroke-width="0.95"/>
<circle cx="546.2" cy="68.1" r="2.45" fill="#fff" stroke="#b85a5a" stroke-width="0.95"/>
<circle cx="555.3" cy="78.6" r="2.45" fill="#fff" stroke="#b85a5a" stroke-width="0.95"/>
<circle cx="564.6" cy="86.9" r="2.45" fill="#fff" stroke="#b85a5a" stroke-width="0.95"/>
<circle cx="573.8" cy="95.2" r="2.45" fill="#fff" stroke="#b85a5a" stroke-width="0.95"/>
<circle cx="583.1" cy="101.7" r="2.45" fill="#fff" stroke="#b85a5a" stroke-width="0.95"/>
<circle cx="592.5" cy="107.5" r="2.45" fill="#fff" stroke="#b85a5a" stroke-width="0.95"/>
<circle cx="601.7" cy="111.0" r="2.45" fill="#fff" stroke="#b85a5a" stroke-width="0.95"/>
<circle cx="611.1" cy="114.0" r="2.45" fill="#fff" stroke="#b85a5a" stroke-width="0.95"/>
<circle cx="620.2" cy="118.2" r="2.45" fill="#fff" stroke="#b85a5a" stroke-width="0.95"/>
<circle cx="629.4" cy="121.6" r="2.45" fill="#fff" stroke="#b85a5a" stroke-width="0.95"/>
<circle cx="645.7" cy="125.3" r="2.45" fill="#fff" stroke="#b85a5a" stroke-width="0.95"/>
<circle cx="669.0" cy="129.8" r="2.45" fill="#fff" stroke="#b85a5a" stroke-width="0.95"/>
<circle cx="692.4" cy="133.5" r="2.45" fill="#fff" stroke="#b85a5a" stroke-width="0.95"/>
</g>
<g clip-path="url(#cb2)">
<polyline points="506.5,272.5 511.3,267.9 516.0,263.2 520.6,256.5 525.1,250.2 529.7,245.5 534.4,241.2 539.0,233.6 546.2,225.4 555.3,217.0 564.6,210.2 573.8,204.0 583.1,199.0 592.5,194.0 601.7,191.2 611.1,188.1 620.2,185.7 629.4,183.2 645.7,179.3 669.0,176.3 692.4,173.4" fill="none" stroke="#d9a0a0" stroke-width="0.9"/>
<circle cx="506.5" cy="272.5" r="2.45" fill="#fff" stroke="#b85a5a" stroke-width="0.95"/>
<circle cx="511.3" cy="267.9" r="2.45" fill="#fff" stroke="#b85a5a" stroke-width="0.95"/>
<circle cx="516.0" cy="263.2" r="2.45" fill="#fff" stroke="#b85a5a" stroke-width="0.95"/>
<circle cx="520.6" cy="256.5" r="2.45" fill="#fff" stroke="#b85a5a" stroke-width="0.95"/>
<circle cx="525.1" cy="250.2" r="2.45" fill="#fff" stroke="#b85a5a" stroke-width="0.95"/>
<circle cx="529.7" cy="245.5" r="2.45" fill="#fff" stroke="#b85a5a" stroke-width="0.95"/>
<circle cx="534.4" cy="241.2" r="2.45" fill="#fff" stroke="#b85a5a" stroke-width="0.95"/>
<circle cx="539.0" cy="233.6" r="2.45" fill="#fff" stroke="#b85a5a" stroke-width="0.95"/>
<circle cx="546.2" cy="225.4" r="2.45" fill="#fff" stroke="#b85a5a" stroke-width="0.95"/>
<circle cx="555.3" cy="217.0" r="2.45" fill="#fff" stroke="#b85a5a" stroke-width="0.95"/>
<circle cx="564.6" cy="210.2" r="2.45" fill="#fff" stroke="#b85a5a" stroke-width="0.95"/>
<circle cx="573.8" cy="204.0" r="2.45" fill="#fff" stroke="#b85a5a" stroke-width="0.95"/>
<circle cx="583.1" cy="199.0" r="2.45" fill="#fff" stroke="#b85a5a" stroke-width="0.95"/>
<circle cx="592.5" cy="194.0" r="2.45" fill="#fff" stroke="#b85a5a" stroke-width="0.95"/>
<circle cx="601.7" cy="191.2" r="2.45" fill="#fff" stroke="#b85a5a" stroke-width="0.95"/>
<circle cx="611.1" cy="188.1" r="2.45" fill="#fff" stroke="#b85a5a" stroke-width="0.95"/>
<circle cx="620.2" cy="185.7" r="2.45" fill="#fff" stroke="#b85a5a" stroke-width="0.95"/>
<circle cx="629.4" cy="183.2" r="2.45" fill="#fff" stroke="#b85a5a" stroke-width="0.95"/>
<circle cx="645.7" cy="179.3" r="2.45" fill="#fff" stroke="#b85a5a" stroke-width="0.95"/>
<circle cx="669.0" cy="176.3" r="2.45" fill="#fff" stroke="#b85a5a" stroke-width="0.95"/>
<circle cx="692.4" cy="173.4" r="2.45" fill="#fff" stroke="#b85a5a" stroke-width="0.95"/>
</g>
<g>
<polyline points="46.9,101.5 53.7,103.7 60.8,107.8 67.9,112.6 74.8,116.9 81.7,120.4 88.8,123.8 95.7,127.3 106.1,130.0 119.8,133.3 133.7,136.1 147.8,138.3 161.7,139.8 175.7,141.0 189.8,142.0 203.4,142.7 217.5,143.4 231.4,144.0" fill="none" stroke="#c88c8c" stroke-width="0.9"/>
<circle cx="46.9" cy="101.5" r="2.80" fill="#7a0000"/>
<circle cx="53.7" cy="103.7" r="2.80" fill="#7a0000"/>
<circle cx="60.8" cy="107.8" r="2.80" fill="#7a0000"/>
<circle cx="67.9" cy="112.6" r="2.80" fill="#7a0000"/>
<circle cx="74.8" cy="116.9" r="2.80" fill="#7a0000"/>
<circle cx="81.7" cy="120.4" r="2.80" fill="#7a0000"/>
<circle cx="88.8" cy="123.8" r="2.80" fill="#7a0000"/>
<circle cx="95.7" cy="127.3" r="2.80" fill="#7a0000"/>
<circle cx="106.1" cy="130.0" r="2.80" fill="#7a0000"/>
<circle cx="119.8" cy="133.3" r="2.80" fill="#7a0000"/>
<circle cx="133.7" cy="136.1" r="2.80" fill="#7a0000"/>
<circle cx="147.8" cy="138.3" r="2.80" fill="#7a0000"/>
<circle cx="161.7" cy="139.8" r="2.80" fill="#7a0000"/>
<circle cx="175.7" cy="141.0" r="2.80" fill="#7a0000"/>
<circle cx="189.8" cy="142.0" r="2.80" fill="#7a0000"/>
<circle cx="203.4" cy="142.7" r="2.80" fill="#7a0000"/>
<circle cx="217.5" cy="143.4" r="2.80" fill="#7a0000"/>
<circle cx="231.4" cy="144.0" r="2.80" fill="#7a0000"/>
</g>
<g clip-path="url(#cb0)">
<polyline points="46.9,193.3 53.7,192.9 60.8,192.1 67.9,191.2 74.8,190.1 81.7,188.1 88.8,186.8 95.7,185.7 106.1,184.0 119.8,182.1 133.7,181.2 147.8,179.2 161.7,178.0 175.7,176.8 189.8,176.3 203.4,175.9 217.5,175.8 231.4,175.6" fill="none" stroke="#c88c8c" stroke-width="0.9"/>
<circle cx="46.9" cy="193.3" r="2.80" fill="#7a0000"/>
<circle cx="53.7" cy="192.9" r="2.80" fill="#7a0000"/>
<circle cx="60.8" cy="192.1" r="2.80" fill="#7a0000"/>
<circle cx="67.9" cy="191.2" r="2.80" fill="#7a0000"/>
<circle cx="74.8" cy="190.1" r="2.80" fill="#7a0000"/>
<circle cx="81.7" cy="188.1" r="2.80" fill="#7a0000"/>
<circle cx="88.8" cy="186.8" r="2.80" fill="#7a0000"/>
<circle cx="95.7" cy="185.7" r="2.80" fill="#7a0000"/>
<circle cx="106.1" cy="184.0" r="2.80" fill="#7a0000"/>
<circle cx="119.8" cy="182.1" r="2.80" fill="#7a0000"/>
<circle cx="133.7" cy="181.2" r="2.80" fill="#7a0000"/>
<circle cx="147.8" cy="179.2" r="2.80" fill="#7a0000"/>
<circle cx="161.7" cy="178.0" r="2.80" fill="#7a0000"/>
<circle cx="175.7" cy="176.8" r="2.80" fill="#7a0000"/>
<circle cx="189.8" cy="176.3" r="2.80" fill="#7a0000"/>
<circle cx="203.4" cy="175.9" r="2.80" fill="#7a0000"/>
<circle cx="217.5" cy="175.8" r="2.80" fill="#7a0000"/>
<circle cx="231.4" cy="175.6" r="2.80" fill="#7a0000"/>
</g>
<g>
<polyline points="273.4,84.2 278.6,73.0 283.8,71.3 288.8,74.1 294.0,79.1 299.4,84.2 304.6,89.7 309.8,94.6 317.5,101.8 328.0,109.5 338.6,115.4 349.2,120.1 359.9,124.4 370.4,128.2 380.9,129.9 391.5,132.2 402.0,133.6 412.6,134.9 430.8,137.7 457.2,139.6" fill="none" stroke="#c88c8c" stroke-width="0.9"/>
<circle cx="273.4" cy="84.2" r="2.80" fill="#7a0000"/>
<circle cx="278.6" cy="73.0" r="2.80" fill="#7a0000"/>
<circle cx="283.8" cy="71.3" r="2.80" fill="#7a0000"/>
<circle cx="288.8" cy="74.1" r="2.80" fill="#7a0000"/>
<circle cx="294.0" cy="79.1" r="2.80" fill="#7a0000"/>
<circle cx="299.4" cy="84.2" r="2.80" fill="#7a0000"/>
<circle cx="304.6" cy="89.7" r="2.80" fill="#7a0000"/>
<circle cx="309.8" cy="94.6" r="2.80" fill="#7a0000"/>
<circle cx="317.5" cy="101.8" r="2.80" fill="#7a0000"/>
<circle cx="328.0" cy="109.5" r="2.80" fill="#7a0000"/>
<circle cx="338.6" cy="115.4" r="2.80" fill="#7a0000"/>
<circle cx="349.2" cy="120.1" r="2.80" fill="#7a0000"/>
<circle cx="359.9" cy="124.4" r="2.80" fill="#7a0000"/>
<circle cx="370.4" cy="128.2" r="2.80" fill="#7a0000"/>
<circle cx="380.9" cy="129.9" r="2.80" fill="#7a0000"/>
<circle cx="391.5" cy="132.2" r="2.80" fill="#7a0000"/>
<circle cx="402.0" cy="133.6" r="2.80" fill="#7a0000"/>
<circle cx="412.6" cy="134.9" r="2.80" fill="#7a0000"/>
<circle cx="430.8" cy="137.7" r="2.80" fill="#7a0000"/>
<circle cx="457.2" cy="139.6" r="2.80" fill="#7a0000"/>
</g>
<g clip-path="url(#cb1)">
<polyline points="273.4,248.7 278.6,242.2 283.8,235.0 288.8,228.1 294.0,221.2 299.4,215.5 304.6,211.4 309.8,208.0 317.5,202.5 328.0,197.9 338.6,193.6 349.2,190.8 359.9,188.2 370.4,187.2 380.9,184.5 391.5,182.5 402.0,181.3 412.6,180.8 430.8,179.5 457.2,177.6" fill="none" stroke="#c88c8c" stroke-width="0.9"/>
<circle cx="273.4" cy="248.7" r="2.80" fill="#7a0000"/>
<circle cx="278.6" cy="242.2" r="2.80" fill="#7a0000"/>
<circle cx="283.8" cy="235.0" r="2.80" fill="#7a0000"/>
<circle cx="288.8" cy="228.1" r="2.80" fill="#7a0000"/>
<circle cx="294.0" cy="221.2" r="2.80" fill="#7a0000"/>
<circle cx="299.4" cy="215.5" r="2.80" fill="#7a0000"/>
<circle cx="304.6" cy="211.4" r="2.80" fill="#7a0000"/>
<circle cx="309.8" cy="208.0" r="2.80" fill="#7a0000"/>
<circle cx="317.5" cy="202.5" r="2.80" fill="#7a0000"/>
<circle cx="328.0" cy="197.9" r="2.80" fill="#7a0000"/>
<circle cx="338.6" cy="193.6" r="2.80" fill="#7a0000"/>
<circle cx="349.2" cy="190.8" r="2.80" fill="#7a0000"/>
<circle cx="359.9" cy="188.2" r="2.80" fill="#7a0000"/>
<circle cx="370.4" cy="187.2" r="2.80" fill="#7a0000"/>
<circle cx="380.9" cy="184.5" r="2.80" fill="#7a0000"/>
<circle cx="391.5" cy="182.5" r="2.80" fill="#7a0000"/>
<circle cx="402.0" cy="181.3" r="2.80" fill="#7a0000"/>
<circle cx="412.6" cy="180.8" r="2.80" fill="#7a0000"/>
<circle cx="430.8" cy="179.5" r="2.80" fill="#7a0000"/>
<circle cx="457.2" cy="177.6" r="2.80" fill="#7a0000"/>
</g>
<g>
<polyline points="506.5,89.2 511.3,72.0 516.0,65.1 520.6,65.1 525.1,67.9 529.7,73.1 534.4,78.6 539.0,82.7 546.2,90.4 555.3,99.8 564.6,107.1 573.8,113.3 583.1,118.2 592.5,122.5 601.7,125.1 611.1,127.2 620.2,129.6 629.4,131.8 645.7,134.2 669.0,137.3 692.4,139.4" fill="none" stroke="#c88c8c" stroke-width="0.9"/>
<circle cx="506.5" cy="89.2" r="2.80" fill="#7a0000"/>
<circle cx="511.3" cy="72.0" r="2.80" fill="#7a0000"/>
<circle cx="516.0" cy="65.1" r="2.80" fill="#7a0000"/>
<circle cx="520.6" cy="65.1" r="2.80" fill="#7a0000"/>
<circle cx="525.1" cy="67.9" r="2.80" fill="#7a0000"/>
<circle cx="529.7" cy="73.1" r="2.80" fill="#7a0000"/>
<circle cx="534.4" cy="78.6" r="2.80" fill="#7a0000"/>
<circle cx="539.0" cy="82.7" r="2.80" fill="#7a0000"/>
<circle cx="546.2" cy="90.4" r="2.80" fill="#7a0000"/>
<circle cx="555.3" cy="99.8" r="2.80" fill="#7a0000"/>
<circle cx="564.6" cy="107.1" r="2.80" fill="#7a0000"/>
<circle cx="573.8" cy="113.3" r="2.80" fill="#7a0000"/>
<circle cx="583.1" cy="118.2" r="2.80" fill="#7a0000"/>
<circle cx="592.5" cy="122.5" r="2.80" fill="#7a0000"/>
<circle cx="601.7" cy="125.1" r="2.80" fill="#7a0000"/>
<circle cx="611.1" cy="127.2" r="2.80" fill="#7a0000"/>
<circle cx="620.2" cy="129.6" r="2.80" fill="#7a0000"/>
<circle cx="629.4" cy="131.8" r="2.80" fill="#7a0000"/>
<circle cx="645.7" cy="134.2" r="2.80" fill="#7a0000"/>
<circle cx="669.0" cy="137.3" r="2.80" fill="#7a0000"/>
<circle cx="692.4" cy="139.4" r="2.80" fill="#7a0000"/>
</g>
<g clip-path="url(#cb2)">
<polyline points="506.5,260.8 511.3,253.7 516.0,246.0 520.6,239.6 525.1,231.2 529.7,224.7 534.4,219.1 539.0,213.0 546.2,207.5 555.3,200.5 564.6,194.4 573.8,189.7 583.1,186.4 592.5,183.2 601.7,180.5 611.1,177.7 620.2,176.9 629.4,175.4 645.7,173.2 669.0,171.3 692.4,169.8" fill="none" stroke="#c88c8c" stroke-width="0.9"/>
<circle cx="506.5" cy="260.8" r="2.80" fill="#7a0000"/>
<circle cx="511.3" cy="253.7" r="2.80" fill="#7a0000"/>
<circle cx="516.0" cy="246.0" r="2.80" fill="#7a0000"/>
<circle cx="520.6" cy="239.6" r="2.80" fill="#7a0000"/>
<circle cx="525.1" cy="231.2" r="2.80" fill="#7a0000"/>
<circle cx="529.7" cy="224.7" r="2.80" fill="#7a0000"/>
<circle cx="534.4" cy="219.1" r="2.80" fill="#7a0000"/>
<circle cx="539.0" cy="213.0" r="2.80" fill="#7a0000"/>
<circle cx="546.2" cy="207.5" r="2.80" fill="#7a0000"/>
<circle cx="555.3" cy="200.5" r="2.80" fill="#7a0000"/>
<circle cx="564.6" cy="194.4" r="2.80" fill="#7a0000"/>
<circle cx="573.8" cy="189.7" r="2.80" fill="#7a0000"/>
<circle cx="583.1" cy="186.4" r="2.80" fill="#7a0000"/>
<circle cx="592.5" cy="183.2" r="2.80" fill="#7a0000"/>
<circle cx="601.7" cy="180.5" r="2.80" fill="#7a0000"/>
<circle cx="611.1" cy="177.7" r="2.80" fill="#7a0000"/>
<circle cx="620.2" cy="176.9" r="2.80" fill="#7a0000"/>
<circle cx="629.4" cy="175.4" r="2.80" fill="#7a0000"/>
<circle cx="645.7" cy="173.2" r="2.80" fill="#7a0000"/>
<circle cx="669.0" cy="171.3" r="2.80" fill="#7a0000"/>
<circle cx="692.4" cy="169.8" r="2.80" fill="#7a0000"/>
</g>
<g>
<polyline points="46.9,38.2 53.7,36.0 60.8,42.0 67.9,49.9 74.8,58.7 81.7,66.8 88.8,74.9 95.7,82.7 106.1,90.7 119.8,100.2 133.7,108.1 147.8,113.8 161.7,117.9 175.7,122.5 189.8,125.5 203.4,128.3 217.5,130.5 231.4,132.7" fill="none" stroke="#9a9aff" stroke-width="0.9"/>
<path d="M46.9,35.3L49.8,40.4L44.0,40.4Z" fill="#fff" stroke="#4646ff" stroke-width="0.95"/>
<path d="M53.7,33.1L56.6,38.2L50.8,38.2Z" fill="#fff" stroke="#4646ff" stroke-width="0.95"/>
<path d="M60.8,39.1L63.7,44.2L57.9,44.2Z" fill="#fff" stroke="#4646ff" stroke-width="0.95"/>
<path d="M67.9,47.0L70.8,52.1L65.0,52.1Z" fill="#fff" stroke="#4646ff" stroke-width="0.95"/>
<path d="M74.8,55.8L77.7,60.9L71.9,60.9Z" fill="#fff" stroke="#4646ff" stroke-width="0.95"/>
<path d="M81.7,63.9L84.6,69.0L78.8,69.0Z" fill="#fff" stroke="#4646ff" stroke-width="0.95"/>
<path d="M88.8,72.0L91.7,77.1L85.9,77.1Z" fill="#fff" stroke="#4646ff" stroke-width="0.95"/>
<path d="M95.7,79.8L98.6,84.9L92.8,84.9Z" fill="#fff" stroke="#4646ff" stroke-width="0.95"/>
<path d="M106.1,87.8L109.0,92.9L103.2,92.9Z" fill="#fff" stroke="#4646ff" stroke-width="0.95"/>
<path d="M119.8,97.3L122.7,102.4L116.9,102.4Z" fill="#fff" stroke="#4646ff" stroke-width="0.95"/>
<path d="M133.7,105.2L136.6,110.3L130.8,110.3Z" fill="#fff" stroke="#4646ff" stroke-width="0.95"/>
<path d="M147.8,110.9L150.7,116.0L144.9,116.0Z" fill="#fff" stroke="#4646ff" stroke-width="0.95"/>
<path d="M161.7,115.0L164.6,120.1L158.8,120.1Z" fill="#fff" stroke="#4646ff" stroke-width="0.95"/>
<path d="M175.7,119.6L178.6,124.7L172.8,124.7Z" fill="#fff" stroke="#4646ff" stroke-width="0.95"/>
<path d="M189.8,122.6L192.7,127.7L186.9,127.7Z" fill="#fff" stroke="#4646ff" stroke-width="0.95"/>
<path d="M203.4,125.4L206.3,130.5L200.5,130.5Z" fill="#fff" stroke="#4646ff" stroke-width="0.95"/>
<path d="M217.5,127.6L220.4,132.7L214.6,132.7Z" fill="#fff" stroke="#4646ff" stroke-width="0.95"/>
<path d="M231.4,129.8L234.3,134.9L228.5,134.9Z" fill="#fff" stroke="#4646ff" stroke-width="0.95"/>
</g>
<g clip-path="url(#cb0)">
<polyline points="46.9,272.2 53.7,260.1 60.8,253.0 67.9,244.0 74.8,237.8 81.7,231.2 88.8,224.4 95.7,220.3 106.1,214.5 119.8,207.3 133.7,201.6 147.8,196.6 161.7,193.4 175.7,189.7 189.8,187.9 203.4,186.0 217.5,185.0 231.4,184.0" fill="none" stroke="#9a9aff" stroke-width="0.9"/>
<path d="M46.9,269.3L49.8,274.4L44.0,274.4Z" fill="#fff" stroke="#4646ff" stroke-width="0.95"/>
<path d="M53.7,257.2L56.6,262.3L50.8,262.3Z" fill="#fff" stroke="#4646ff" stroke-width="0.95"/>
<path d="M60.8,250.1L63.7,255.2L57.9,255.2Z" fill="#fff" stroke="#4646ff" stroke-width="0.95"/>
<path d="M67.9,241.1L70.8,246.2L65.0,246.2Z" fill="#fff" stroke="#4646ff" stroke-width="0.95"/>
<path d="M74.8,234.9L77.7,240.0L71.9,240.0Z" fill="#fff" stroke="#4646ff" stroke-width="0.95"/>
<path d="M81.7,228.3L84.6,233.4L78.8,233.4Z" fill="#fff" stroke="#4646ff" stroke-width="0.95"/>
<path d="M88.8,221.5L91.7,226.6L85.9,226.6Z" fill="#fff" stroke="#4646ff" stroke-width="0.95"/>
<path d="M95.7,217.4L98.6,222.5L92.8,222.5Z" fill="#fff" stroke="#4646ff" stroke-width="0.95"/>
<path d="M106.1,211.6L109.0,216.7L103.2,216.7Z" fill="#fff" stroke="#4646ff" stroke-width="0.95"/>
<path d="M119.8,204.4L122.7,209.5L116.9,209.5Z" fill="#fff" stroke="#4646ff" stroke-width="0.95"/>
<path d="M133.7,198.7L136.6,203.8L130.8,203.8Z" fill="#fff" stroke="#4646ff" stroke-width="0.95"/>
<path d="M147.8,193.7L150.7,198.8L144.9,198.8Z" fill="#fff" stroke="#4646ff" stroke-width="0.95"/>
<path d="M161.7,190.5L164.6,195.6L158.8,195.6Z" fill="#fff" stroke="#4646ff" stroke-width="0.95"/>
<path d="M175.7,186.8L178.6,191.9L172.8,191.9Z" fill="#fff" stroke="#4646ff" stroke-width="0.95"/>
<path d="M189.8,185.0L192.7,190.1L186.9,190.1Z" fill="#fff" stroke="#4646ff" stroke-width="0.95"/>
<path d="M203.4,183.1L206.3,188.2L200.5,188.2Z" fill="#fff" stroke="#4646ff" stroke-width="0.95"/>
<path d="M217.5,182.1L220.4,187.2L214.6,187.2Z" fill="#fff" stroke="#4646ff" stroke-width="0.95"/>
<path d="M231.4,181.1L234.3,186.2L228.5,186.2Z" fill="#fff" stroke="#4646ff" stroke-width="0.95"/>
</g>
<g>
<polyline points="273.4,63.9 278.6,44.4 283.8,34.1 288.8,31.4 294.0,31.4 299.4,32.7 304.6,36.4 309.8,40.2 317.5,46.9 328.0,57.2 338.6,64.0 349.2,72.9 359.9,79.5 370.4,89.4 380.9,94.4 391.5,99.0 402.0,101.8 412.6,105.8 430.8,112.5 457.2,118.6" fill="none" stroke="#9a9aff" stroke-width="0.9"/>
<path d="M273.4,61.0L276.3,66.1L270.5,66.1Z" fill="#fff" stroke="#4646ff" stroke-width="0.95"/>
<path d="M278.6,41.5L281.5,46.6L275.7,46.6Z" fill="#fff" stroke="#4646ff" stroke-width="0.95"/>
<path d="M283.8,31.2L286.7,36.3L280.9,36.3Z" fill="#fff" stroke="#4646ff" stroke-width="0.95"/>
<path d="M288.8,28.5L291.7,33.6L285.9,33.6Z" fill="#fff" stroke="#4646ff" stroke-width="0.95"/>
<path d="M294.0,28.5L296.9,33.6L291.1,33.6Z" fill="#fff" stroke="#4646ff" stroke-width="0.95"/>
<path d="M299.4,29.8L302.3,34.9L296.5,34.9Z" fill="#fff" stroke="#4646ff" stroke-width="0.95"/>
<path d="M304.6,33.5L307.5,38.6L301.7,38.6Z" fill="#fff" stroke="#4646ff" stroke-width="0.95"/>
<path d="M309.8,37.3L312.7,42.4L306.9,42.4Z" fill="#fff" stroke="#4646ff" stroke-width="0.95"/>
<path d="M317.5,44.0L320.4,49.1L314.6,49.1Z" fill="#fff" stroke="#4646ff" stroke-width="0.95"/>
<path d="M328.0,54.3L330.9,59.4L325.1,59.4Z" fill="#fff" stroke="#4646ff" stroke-width="0.95"/>
<path d="M338.6,61.1L341.5,66.2L335.7,66.2Z" fill="#fff" stroke="#4646ff" stroke-width="0.95"/>
<path d="M349.2,70.0L352.1,75.1L346.3,75.1Z" fill="#fff" stroke="#4646ff" stroke-width="0.95"/>
<path d="M359.9,76.6L362.8,81.7L357.0,81.7Z" fill="#fff" stroke="#4646ff" stroke-width="0.95"/>
<path d="M370.4,86.5L373.3,91.6L367.5,91.6Z" fill="#fff" stroke="#4646ff" stroke-width="0.95"/>
<path d="M380.9,91.5L383.8,96.6L378.0,96.6Z" fill="#fff" stroke="#4646ff" stroke-width="0.95"/>
<path d="M391.5,96.1L394.4,101.2L388.6,101.2Z" fill="#fff" stroke="#4646ff" stroke-width="0.95"/>
<path d="M402.0,98.9L404.9,104.0L399.1,104.0Z" fill="#fff" stroke="#4646ff" stroke-width="0.95"/>
<path d="M412.6,102.9L415.5,108.0L409.7,108.0Z" fill="#fff" stroke="#4646ff" stroke-width="0.95"/>
<path d="M430.8,109.6L433.7,114.7L427.9,114.7Z" fill="#fff" stroke="#4646ff" stroke-width="0.95"/>
<path d="M457.2,115.7L460.1,120.8L454.3,120.8Z" fill="#fff" stroke="#4646ff" stroke-width="0.95"/>
</g>
<g clip-path="url(#cb1)">
<polyline points="273.4,279.2 278.6,277.4 283.8,274.0 288.8,269.9 294.0,265.7 299.4,261.0 304.6,256.9 309.8,253.0 317.5,247.0 328.0,239.5 338.6,232.6 349.2,225.7 359.9,221.0 370.4,214.2 380.9,209.6 391.5,208.1 402.0,203.9 412.6,200.2 430.8,196.6 457.2,190.8" fill="none" stroke="#9a9aff" stroke-width="0.9"/>
<path d="M273.4,276.3L276.3,281.4L270.5,281.4Z" fill="#fff" stroke="#4646ff" stroke-width="0.95"/>
<path d="M278.6,274.5L281.5,279.6L275.7,279.6Z" fill="#fff" stroke="#4646ff" stroke-width="0.95"/>
<path d="M283.8,271.1L286.7,276.2L280.9,276.2Z" fill="#fff" stroke="#4646ff" stroke-width="0.95"/>
<path d="M288.8,267.0L291.7,272.1L285.9,272.1Z" fill="#fff" stroke="#4646ff" stroke-width="0.95"/>
<path d="M294.0,262.8L296.9,267.9L291.1,267.9Z" fill="#fff" stroke="#4646ff" stroke-width="0.95"/>
<path d="M299.4,258.1L302.3,263.2L296.5,263.2Z" fill="#fff" stroke="#4646ff" stroke-width="0.95"/>
<path d="M304.6,254.0L307.5,259.1L301.7,259.1Z" fill="#fff" stroke="#4646ff" stroke-width="0.95"/>
<path d="M309.8,250.1L312.7,255.2L306.9,255.2Z" fill="#fff" stroke="#4646ff" stroke-width="0.95"/>
<path d="M317.5,244.1L320.4,249.2L314.6,249.2Z" fill="#fff" stroke="#4646ff" stroke-width="0.95"/>
<path d="M328.0,236.6L330.9,241.7L325.1,241.7Z" fill="#fff" stroke="#4646ff" stroke-width="0.95"/>
<path d="M338.6,229.7L341.5,234.8L335.7,234.8Z" fill="#fff" stroke="#4646ff" stroke-width="0.95"/>
<path d="M349.2,222.8L352.1,227.9L346.3,227.9Z" fill="#fff" stroke="#4646ff" stroke-width="0.95"/>
<path d="M359.9,218.1L362.8,223.2L357.0,223.2Z" fill="#fff" stroke="#4646ff" stroke-width="0.95"/>
<path d="M370.4,211.3L373.3,216.4L367.5,216.4Z" fill="#fff" stroke="#4646ff" stroke-width="0.95"/>
<path d="M380.9,206.7L383.8,211.8L378.0,211.8Z" fill="#fff" stroke="#4646ff" stroke-width="0.95"/>
<path d="M391.5,205.2L394.4,210.3L388.6,210.3Z" fill="#fff" stroke="#4646ff" stroke-width="0.95"/>
<path d="M402.0,201.0L404.9,206.1L399.1,206.1Z" fill="#fff" stroke="#4646ff" stroke-width="0.95"/>
<path d="M412.6,197.3L415.5,202.4L409.7,202.4Z" fill="#fff" stroke="#4646ff" stroke-width="0.95"/>
<path d="M430.8,193.7L433.7,198.8L427.9,198.8Z" fill="#fff" stroke="#4646ff" stroke-width="0.95"/>
<path d="M457.2,187.9L460.1,193.0L454.3,193.0Z" fill="#fff" stroke="#4646ff" stroke-width="0.95"/>
</g>
<g>
<polyline points="506.5,75.5 511.3,49.7 516.0,37.2 520.6,29.5 525.1,25.5 529.7,25.3 534.4,27.4 539.0,28.8 546.2,35.1 555.3,44.7 564.6,53.1 573.8,62.6 583.1,70.0 592.5,77.1 601.7,83.2 611.1,88.4 620.2,93.2 629.4,98.0 645.7,104.5 669.0,112.0 692.4,118.1" fill="none" stroke="#9a9aff" stroke-width="0.9"/>
<path d="M506.5,72.6L509.4,77.7L503.6,77.7Z" fill="#fff" stroke="#4646ff" stroke-width="0.95"/>
<path d="M511.3,46.8L514.2,51.9L508.4,51.9Z" fill="#fff" stroke="#4646ff" stroke-width="0.95"/>
<path d="M516.0,34.3L518.9,39.4L513.1,39.4Z" fill="#fff" stroke="#4646ff" stroke-width="0.95"/>
<path d="M520.6,26.6L523.5,31.7L517.7,31.7Z" fill="#fff" stroke="#4646ff" stroke-width="0.95"/>
<path d="M525.1,22.6L528.0,27.7L522.2,27.7Z" fill="#fff" stroke="#4646ff" stroke-width="0.95"/>
<path d="M529.7,22.4L532.6,27.5L526.8,27.5Z" fill="#fff" stroke="#4646ff" stroke-width="0.95"/>
<path d="M534.4,24.5L537.3,29.6L531.5,29.6Z" fill="#fff" stroke="#4646ff" stroke-width="0.95"/>
<path d="M539.0,25.9L541.9,31.0L536.1,31.0Z" fill="#fff" stroke="#4646ff" stroke-width="0.95"/>
<path d="M546.2,32.2L549.1,37.3L543.3,37.3Z" fill="#fff" stroke="#4646ff" stroke-width="0.95"/>
<path d="M555.3,41.8L558.2,46.9L552.4,46.9Z" fill="#fff" stroke="#4646ff" stroke-width="0.95"/>
<path d="M564.6,50.2L567.5,55.3L561.7,55.3Z" fill="#fff" stroke="#4646ff" stroke-width="0.95"/>
<path d="M573.8,59.7L576.7,64.8L570.9,64.8Z" fill="#fff" stroke="#4646ff" stroke-width="0.95"/>
<path d="M583.1,67.1L586.0,72.2L580.2,72.2Z" fill="#fff" stroke="#4646ff" stroke-width="0.95"/>
<path d="M592.5,74.2L595.4,79.3L589.6,79.3Z" fill="#fff" stroke="#4646ff" stroke-width="0.95"/>
<path d="M601.7,80.3L604.6,85.4L598.8,85.4Z" fill="#fff" stroke="#4646ff" stroke-width="0.95"/>
<path d="M611.1,85.5L614.0,90.6L608.2,90.6Z" fill="#fff" stroke="#4646ff" stroke-width="0.95"/>
<path d="M620.2,90.3L623.1,95.4L617.3,95.4Z" fill="#fff" stroke="#4646ff" stroke-width="0.95"/>
<path d="M629.4,95.1L632.3,100.2L626.5,100.2Z" fill="#fff" stroke="#4646ff" stroke-width="0.95"/>
<path d="M645.7,101.6L648.6,106.7L642.8,106.7Z" fill="#fff" stroke="#4646ff" stroke-width="0.95"/>
<path d="M669.0,109.1L671.9,114.2L666.1,114.2Z" fill="#fff" stroke="#4646ff" stroke-width="0.95"/>
<path d="M692.4,115.2L695.3,120.3L689.5,120.3Z" fill="#fff" stroke="#4646ff" stroke-width="0.95"/>
</g>
<g clip-path="url(#cb2)">
<polyline points="506.5,279.0 511.3,277.2 516.0,274.4 520.6,270.1 525.1,266.9 529.7,262.7 534.4,259.0 539.0,255.2 546.2,250.0 555.3,243.3 564.6,234.9 573.8,228.2 583.1,221.9 592.5,215.6 601.7,211.0 611.1,206.1 620.2,202.4 629.4,198.7 645.7,193.6 669.0,187.7 692.4,182.8" fill="none" stroke="#9a9aff" stroke-width="0.9"/>
<path d="M506.5,276.1L509.4,281.2L503.6,281.2Z" fill="#fff" stroke="#4646ff" stroke-width="0.95"/>
<path d="M511.3,274.3L514.2,279.4L508.4,279.4Z" fill="#fff" stroke="#4646ff" stroke-width="0.95"/>
<path d="M516.0,271.5L518.9,276.6L513.1,276.6Z" fill="#fff" stroke="#4646ff" stroke-width="0.95"/>
<path d="M520.6,267.2L523.5,272.3L517.7,272.3Z" fill="#fff" stroke="#4646ff" stroke-width="0.95"/>
<path d="M525.1,264.0L528.0,269.1L522.2,269.1Z" fill="#fff" stroke="#4646ff" stroke-width="0.95"/>
<path d="M529.7,259.8L532.6,264.9L526.8,264.9Z" fill="#fff" stroke="#4646ff" stroke-width="0.95"/>
<path d="M534.4,256.1L537.3,261.2L531.5,261.2Z" fill="#fff" stroke="#4646ff" stroke-width="0.95"/>
<path d="M539.0,252.3L541.9,257.4L536.1,257.4Z" fill="#fff" stroke="#4646ff" stroke-width="0.95"/>
<path d="M546.2,247.1L549.1,252.2L543.3,252.2Z" fill="#fff" stroke="#4646ff" stroke-width="0.95"/>
<path d="M555.3,240.4L558.2,245.5L552.4,245.5Z" fill="#fff" stroke="#4646ff" stroke-width="0.95"/>
<path d="M564.6,232.0L567.5,237.1L561.7,237.1Z" fill="#fff" stroke="#4646ff" stroke-width="0.95"/>
<path d="M573.8,225.3L576.7,230.4L570.9,230.4Z" fill="#fff" stroke="#4646ff" stroke-width="0.95"/>
<path d="M583.1,219.0L586.0,224.1L580.2,224.1Z" fill="#fff" stroke="#4646ff" stroke-width="0.95"/>
<path d="M592.5,212.7L595.4,217.8L589.6,217.8Z" fill="#fff" stroke="#4646ff" stroke-width="0.95"/>
<path d="M601.7,208.1L604.6,213.2L598.8,213.2Z" fill="#fff" stroke="#4646ff" stroke-width="0.95"/>
<path d="M611.1,203.2L614.0,208.3L608.2,208.3Z" fill="#fff" stroke="#4646ff" stroke-width="0.95"/>
<path d="M620.2,199.5L623.1,204.6L617.3,204.6Z" fill="#fff" stroke="#4646ff" stroke-width="0.95"/>
<path d="M629.4,195.8L632.3,200.9L626.5,200.9Z" fill="#fff" stroke="#4646ff" stroke-width="0.95"/>
<path d="M645.7,190.7L648.6,195.8L642.8,195.8Z" fill="#fff" stroke="#4646ff" stroke-width="0.95"/>
<path d="M669.0,184.8L671.9,189.9L666.1,189.9Z" fill="#fff" stroke="#4646ff" stroke-width="0.95"/>
<path d="M692.4,179.9L695.3,185.0L689.5,185.0Z" fill="#fff" stroke="#4646ff" stroke-width="0.95"/>
</g>
<g>
<polyline points="46.9,54.0 53.7,54.6 60.8,61.0 67.9,68.9 74.8,77.6 81.7,84.5 88.8,92.0 95.7,97.8 106.1,104.6 119.8,112.3 133.7,118.4 147.8,123.1 161.7,126.6 175.7,129.8 189.8,132.2 203.4,134.0 217.5,135.4 231.4,136.8" fill="none" stroke="#7d7dff" stroke-width="0.9"/>
<path d="M46.9,50.9L49.8,56.5L44.0,56.5Z" fill="#0000ff"/>
<path d="M53.7,51.5L56.6,57.1L50.8,57.1Z" fill="#0000ff"/>
<path d="M60.8,57.9L63.7,63.5L57.9,63.5Z" fill="#0000ff"/>
<path d="M67.9,65.8L70.8,71.4L65.0,71.4Z" fill="#0000ff"/>
<path d="M74.8,74.5L77.7,80.1L71.9,80.1Z" fill="#0000ff"/>
<path d="M81.7,81.4L84.6,87.0L78.8,87.0Z" fill="#0000ff"/>
<path d="M88.8,88.9L91.7,94.5L85.9,94.5Z" fill="#0000ff"/>
<path d="M95.7,94.7L98.6,100.3L92.8,100.3Z" fill="#0000ff"/>
<path d="M106.1,101.5L109.0,107.1L103.2,107.1Z" fill="#0000ff"/>
<path d="M119.8,109.2L122.7,114.8L116.9,114.8Z" fill="#0000ff"/>
<path d="M133.7,115.3L136.6,120.9L130.8,120.9Z" fill="#0000ff"/>
<path d="M147.8,120.0L150.7,125.6L144.9,125.6Z" fill="#0000ff"/>
<path d="M161.7,123.5L164.6,129.1L158.8,129.1Z" fill="#0000ff"/>
<path d="M175.7,126.7L178.6,132.3L172.8,132.3Z" fill="#0000ff"/>
<path d="M189.8,129.1L192.7,134.7L186.9,134.7Z" fill="#0000ff"/>
<path d="M203.4,130.9L206.3,136.5L200.5,136.5Z" fill="#0000ff"/>
<path d="M217.5,132.3L220.4,137.9L214.6,137.9Z" fill="#0000ff"/>
<path d="M231.4,133.7L234.3,139.3L228.5,139.3Z" fill="#0000ff"/>
</g>
<g clip-path="url(#cb0)">
<polyline points="46.9,250.5 53.7,241.3 60.8,234.6 67.9,227.2 74.8,221.6 81.7,216.0 88.8,211.4 95.7,207.8 106.1,202.9 119.8,198.0 133.7,194.6 147.8,191.0 161.7,187.9 175.7,186.9 189.8,184.4 203.4,182.9 217.5,181.6 231.4,180.5" fill="none" stroke="#7d7dff" stroke-width="0.9"/>
<path d="M46.9,247.4L49.8,253.0L44.0,253.0Z" fill="#0000ff"/>
<path d="M53.7,238.2L56.6,243.8L50.8,243.8Z" fill="#0000ff"/>
<path d="M60.8,231.5L63.7,237.1L57.9,237.1Z" fill="#0000ff"/>
<path d="M67.9,224.1L70.8,229.7L65.0,229.7Z" fill="#0000ff"/>
<path d="M74.8,218.5L77.7,224.1L71.9,224.1Z" fill="#0000ff"/>
<path d="M81.7,212.9L84.6,218.5L78.8,218.5Z" fill="#0000ff"/>
<path d="M88.8,208.3L91.7,213.9L85.9,213.9Z" fill="#0000ff"/>
<path d="M95.7,204.7L98.6,210.3L92.8,210.3Z" fill="#0000ff"/>
<path d="M106.1,199.8L109.0,205.4L103.2,205.4Z" fill="#0000ff"/>
<path d="M119.8,194.9L122.7,200.5L116.9,200.5Z" fill="#0000ff"/>
<path d="M133.7,191.5L136.6,197.1L130.8,197.1Z" fill="#0000ff"/>
<path d="M147.8,187.9L150.7,193.5L144.9,193.5Z" fill="#0000ff"/>
<path d="M161.7,184.8L164.6,190.4L158.8,190.4Z" fill="#0000ff"/>
<path d="M175.7,183.8L178.6,189.4L172.8,189.4Z" fill="#0000ff"/>
<path d="M189.8,181.3L192.7,186.9L186.9,186.9Z" fill="#0000ff"/>
<path d="M203.4,179.8L206.3,185.4L200.5,185.4Z" fill="#0000ff"/>
<path d="M217.5,178.5L220.4,184.1L214.6,184.1Z" fill="#0000ff"/>
<path d="M231.4,177.4L234.3,183.0L228.5,183.0Z" fill="#0000ff"/>
</g>
<g>
<polyline points="273.4,67.2 278.6,49.0 283.8,42.0 288.8,40.1 294.0,41.2 299.4,44.4 304.6,49.0 309.8,53.7 317.5,61.2 328.0,71.1 338.6,78.5 349.2,86.5 359.9,94.4 370.4,101.9 380.9,106.3 391.5,109.9 402.0,113.0 412.6,116.4 430.8,121.2 457.2,126.4" fill="none" stroke="#7d7dff" stroke-width="0.9"/>
<path d="M273.4,64.1L276.3,69.7L270.5,69.7Z" fill="#0000ff"/>
<path d="M278.6,45.9L281.5,51.5L275.7,51.5Z" fill="#0000ff"/>
<path d="M283.8,38.9L286.7,44.5L280.9,44.5Z" fill="#0000ff"/>
<path d="M288.8,37.0L291.7,42.6L285.9,42.6Z" fill="#0000ff"/>
<path d="M294.0,38.1L296.9,43.7L291.1,43.7Z" fill="#0000ff"/>
<path d="M299.4,41.3L302.3,46.9L296.5,46.9Z" fill="#0000ff"/>
<path d="M304.6,45.9L307.5,51.5L301.7,51.5Z" fill="#0000ff"/>
<path d="M309.8,50.6L312.7,56.2L306.9,56.2Z" fill="#0000ff"/>
<path d="M317.5,58.1L320.4,63.7L314.6,63.7Z" fill="#0000ff"/>
<path d="M328.0,68.0L330.9,73.6L325.1,73.6Z" fill="#0000ff"/>
<path d="M338.6,75.4L341.5,81.0L335.7,81.0Z" fill="#0000ff"/>
<path d="M349.2,83.4L352.1,89.0L346.3,89.0Z" fill="#0000ff"/>
<path d="M359.9,91.3L362.8,96.9L357.0,96.9Z" fill="#0000ff"/>
<path d="M370.4,98.8L373.3,104.4L367.5,104.4Z" fill="#0000ff"/>
<path d="M380.9,103.2L383.8,108.8L378.0,108.8Z" fill="#0000ff"/>
<path d="M391.5,106.8L394.4,112.4L388.6,112.4Z" fill="#0000ff"/>
<path d="M402.0,109.9L404.9,115.5L399.1,115.5Z" fill="#0000ff"/>
<path d="M412.6,113.3L415.5,118.9L409.7,118.9Z" fill="#0000ff"/>
<path d="M430.8,118.1L433.7,123.7L427.9,123.7Z" fill="#0000ff"/>
<path d="M457.2,123.3L460.1,128.9L454.3,128.9Z" fill="#0000ff"/>
</g>
<g clip-path="url(#cb1)">
<polyline points="273.4,274.0 278.6,272.2 283.8,267.5 288.8,262.5 294.0,257.7 299.4,252.6 304.6,247.2 309.8,242.7 317.5,236.3 328.0,227.8 338.6,220.5 349.2,214.2 359.9,209.0 370.4,206.4 380.9,204.0 391.5,199.0 402.0,194.8 412.6,193.1 430.8,190.0 457.2,186.7" fill="none" stroke="#7d7dff" stroke-width="0.9"/>
<path d="M273.4,270.9L276.3,276.5L270.5,276.5Z" fill="#0000ff"/>
<path d="M278.6,269.1L281.5,274.7L275.7,274.7Z" fill="#0000ff"/>
<path d="M283.8,264.4L286.7,270.0L280.9,270.0Z" fill="#0000ff"/>
<path d="M288.8,259.4L291.7,265.0L285.9,265.0Z" fill="#0000ff"/>
<path d="M294.0,254.6L296.9,260.2L291.1,260.2Z" fill="#0000ff"/>
<path d="M299.4,249.5L302.3,255.1L296.5,255.1Z" fill="#0000ff"/>
<path d="M304.6,244.1L307.5,249.7L301.7,249.7Z" fill="#0000ff"/>
<path d="M309.8,239.6L312.7,245.2L306.9,245.2Z" fill="#0000ff"/>
<path d="M317.5,233.2L320.4,238.8L314.6,238.8Z" fill="#0000ff"/>
<path d="M328.0,224.7L330.9,230.3L325.1,230.3Z" fill="#0000ff"/>
<path d="M338.6,217.4L341.5,223.0L335.7,223.0Z" fill="#0000ff"/>
<path d="M349.2,211.1L352.1,216.7L346.3,216.7Z" fill="#0000ff"/>
<path d="M359.9,205.9L362.8,211.5L357.0,211.5Z" fill="#0000ff"/>
<path d="M370.4,203.3L373.3,208.9L367.5,208.9Z" fill="#0000ff"/>
<path d="M380.9,200.9L383.8,206.5L378.0,206.5Z" fill="#0000ff"/>
<path d="M391.5,195.9L394.4,201.5L388.6,201.5Z" fill="#0000ff"/>
<path d="M402.0,191.7L404.9,197.3L399.1,197.3Z" fill="#0000ff"/>
<path d="M412.6,190.0L415.5,195.6L409.7,195.6Z" fill="#0000ff"/>
<path d="M430.8,186.9L433.7,192.5L427.9,192.5Z" fill="#0000ff"/>
<path d="M457.2,183.6L460.1,189.2L454.3,189.2Z" fill="#0000ff"/>
</g>
<g>
<polyline points="506.5,78.1 511.3,53.6 516.0,42.0 520.6,35.8 525.1,35.1 529.7,35.3 534.4,39.2 539.0,41.8 546.2,49.4 555.3,60.2 564.6,68.6 573.8,77.6 583.1,84.5 592.5,91.2 601.7,96.6 611.1,101.3 620.2,105.7 629.4,110.1 645.7,116.0 669.0,120.5 692.4,125.5" fill="none" stroke="#7d7dff" stroke-width="0.9"/>
<path d="M506.5,75.0L509.4,80.6L503.6,80.6Z" fill="#0000ff"/>
<path d="M511.3,50.5L514.2,56.1L508.4,56.1Z" fill="#0000ff"/>
<path d="M516.0,38.9L518.9,44.5L513.1,44.5Z" fill="#0000ff"/>
<path d="M520.6,32.7L523.5,38.3L517.7,38.3Z" fill="#0000ff"/>
<path d="M525.1,32.0L528.0,37.6L522.2,37.6Z" fill="#0000ff"/>
<path d="M529.7,32.2L532.6,37.8L526.8,37.8Z" fill="#0000ff"/>
<path d="M534.4,36.1L537.3,41.7L531.5,41.7Z" fill="#0000ff"/>
<path d="M539.0,38.7L541.9,44.3L536.1,44.3Z" fill="#0000ff"/>
<path d="M546.2,46.3L549.1,51.9L543.3,51.9Z" fill="#0000ff"/>
<path d="M555.3,57.1L558.2,62.7L552.4,62.7Z" fill="#0000ff"/>
<path d="M564.6,65.5L567.5,71.1L561.7,71.1Z" fill="#0000ff"/>
<path d="M573.8,74.5L576.7,80.1L570.9,80.1Z" fill="#0000ff"/>
<path d="M583.1,81.4L586.0,87.0L580.2,87.0Z" fill="#0000ff"/>
<path d="M592.5,88.1L595.4,93.7L589.6,93.7Z" fill="#0000ff"/>
<path d="M601.7,93.5L604.6,99.1L598.8,99.1Z" fill="#0000ff"/>
<path d="M611.1,98.2L614.0,103.8L608.2,103.8Z" fill="#0000ff"/>
<path d="M620.2,102.6L623.1,108.2L617.3,108.2Z" fill="#0000ff"/>
<path d="M629.4,107.0L632.3,112.6L626.5,112.6Z" fill="#0000ff"/>
<path d="M645.7,112.9L648.6,118.5L642.8,118.5Z" fill="#0000ff"/>
<path d="M669.0,117.4L671.9,123.0L666.1,123.0Z" fill="#0000ff"/>
<path d="M692.4,122.4L695.3,128.0L689.5,128.0Z" fill="#0000ff"/>
</g>
<g clip-path="url(#cb2)">
<polyline points="506.5,277.2 511.3,273.4 516.0,270.1 520.6,266.0 525.1,261.9 529.7,257.1 534.4,251.4 539.0,247.8 546.2,240.0 555.3,231.8 564.6,223.8 573.8,216.2 583.1,210.6 592.5,204.9 601.7,201.3 611.1,196.8 620.2,193.6 629.4,191.2 645.7,185.8 669.0,181.7 692.4,178.4" fill="none" stroke="#7d7dff" stroke-width="0.9"/>
<path d="M506.5,274.1L509.4,279.7L503.6,279.7Z" fill="#0000ff"/>
<path d="M511.3,270.3L514.2,275.9L508.4,275.9Z" fill="#0000ff"/>
<path d="M516.0,267.0L518.9,272.6L513.1,272.6Z" fill="#0000ff"/>
<path d="M520.6,262.9L523.5,268.5L517.7,268.5Z" fill="#0000ff"/>
<path d="M525.1,258.8L528.0,264.4L522.2,264.4Z" fill="#0000ff"/>
<path d="M529.7,254.0L532.6,259.6L526.8,259.6Z" fill="#0000ff"/>
<path d="M534.4,248.3L537.3,253.9L531.5,253.9Z" fill="#0000ff"/>
<path d="M539.0,244.7L541.9,250.3L536.1,250.3Z" fill="#0000ff"/>
<path d="M546.2,236.9L549.1,242.5L543.3,242.5Z" fill="#0000ff"/>
<path d="M555.3,228.7L558.2,234.3L552.4,234.3Z" fill="#0000ff"/>
<path d="M564.6,220.7L567.5,226.3L561.7,226.3Z" fill="#0000ff"/>
<path d="M573.8,213.1L576.7,218.7L570.9,218.7Z" fill="#0000ff"/>
<path d="M583.1,207.5L586.0,213.1L580.2,213.1Z" fill="#0000ff"/>
<path d="M592.5,201.8L595.4,207.4L589.6,207.4Z" fill="#0000ff"/>
<path d="M601.7,198.2L604.6,203.8L598.8,203.8Z" fill="#0000ff"/>
<path d="M611.1,193.7L614.0,199.3L608.2,199.3Z" fill="#0000ff"/>
<path d="M620.2,190.5L623.1,196.1L617.3,196.1Z" fill="#0000ff"/>
<path d="M629.4,188.1L632.3,193.7L626.5,193.7Z" fill="#0000ff"/>
<path d="M645.7,182.7L648.6,188.3L642.8,188.3Z" fill="#0000ff"/>
<path d="M669.0,178.6L671.9,184.2L666.1,184.2Z" fill="#0000ff"/>
<path d="M692.4,175.3L695.3,180.9L689.5,180.9Z" fill="#0000ff"/>
</g>
<g>
<polyline points="46.9,26.2 53.7,21.7 60.8,26.6 67.9,34.1 74.8,43.4 81.7,51.8 88.8,59.8 95.7,67.8 106.1,77.9 119.8,88.5 133.7,97.7 147.8,104.3 161.7,110.4 175.7,115.1 189.8,119.2 203.4,122.3 217.5,125.3 231.4,128.1" fill="none" stroke="#8fd08f" stroke-width="0.9"/>
<use href="#gs" transform="translate(46.9,26.2) scale(1.00)"/>
<use href="#gs" transform="translate(53.7,21.7) scale(1.00)"/>
<use href="#gs" transform="translate(60.8,26.6) scale(1.00)"/>
<use href="#gs" transform="translate(67.9,34.1) scale(1.00)"/>
<use href="#gs" transform="translate(74.8,43.4) scale(1.00)"/>
<use href="#gs" transform="translate(81.7,51.8) scale(1.00)"/>
<use href="#gs" transform="translate(88.8,59.8) scale(1.00)"/>
<use href="#gs" transform="translate(95.7,67.8) scale(1.00)"/>
<use href="#gs" transform="translate(106.1,77.9) scale(1.00)"/>
<use href="#gs" transform="translate(119.8,88.5) scale(1.00)"/>
<use href="#gs" transform="translate(133.7,97.7) scale(1.00)"/>
<use href="#gs" transform="translate(147.8,104.3) scale(1.00)"/>
<use href="#gs" transform="translate(161.7,110.4) scale(1.00)"/>
<use href="#gs" transform="translate(175.7,115.1) scale(1.00)"/>
<use href="#gs" transform="translate(189.8,119.2) scale(1.00)"/>
<use href="#gs" transform="translate(203.4,122.3) scale(1.00)"/>
<use href="#gs" transform="translate(217.5,125.3) scale(1.00)"/>
<use href="#gs" transform="translate(231.4,128.1) scale(1.00)"/>
</g>
<g clip-path="url(#cb0)">
<polyline points="46.9,280.0 53.7,269.0 60.8,261.0 67.9,252.1 74.8,245.3 81.7,238.7 88.8,232.4 95.7,227.1 106.1,221.0 119.8,213.6 133.7,206.1 147.8,201.3 161.7,198.6 175.7,194.4 189.8,191.8 203.4,190.2 217.5,187.8 231.4,186.7" fill="none" stroke="#8fd08f" stroke-width="0.9"/>
<use href="#gs" transform="translate(46.9,280.0) scale(1.00)"/>
<use href="#gs" transform="translate(53.7,269.0) scale(1.00)"/>
<use href="#gs" transform="translate(60.8,261.0) scale(1.00)"/>
<use href="#gs" transform="translate(67.9,252.1) scale(1.00)"/>
<use href="#gs" transform="translate(74.8,245.3) scale(1.00)"/>
<use href="#gs" transform="translate(81.7,238.7) scale(1.00)"/>
<use href="#gs" transform="translate(88.8,232.4) scale(1.00)"/>
<use href="#gs" transform="translate(95.7,227.1) scale(1.00)"/>
<use href="#gs" transform="translate(106.1,221.0) scale(1.00)"/>
<use href="#gs" transform="translate(119.8,213.6) scale(1.00)"/>
<use href="#gs" transform="translate(133.7,206.1) scale(1.00)"/>
<use href="#gs" transform="translate(147.8,201.3) scale(1.00)"/>
<use href="#gs" transform="translate(161.7,198.6) scale(1.00)"/>
<use href="#gs" transform="translate(175.7,194.4) scale(1.00)"/>
<use href="#gs" transform="translate(189.8,191.8) scale(1.00)"/>
<use href="#gs" transform="translate(203.4,190.2) scale(1.00)"/>
<use href="#gs" transform="translate(217.5,187.8) scale(1.00)"/>
<use href="#gs" transform="translate(231.4,186.7) scale(1.00)"/>
</g>
<g>
<polyline points="273.4,59.4 278.6,40.7 283.8,28.6 288.8,25.4 294.0,23.9 299.4,24.9 304.6,27.1 309.8,30.6 317.5,36.0 328.0,45.1 338.6,52.1 349.2,61.2 359.9,68.8 370.4,77.1 380.9,82.7 391.5,87.9 402.0,92.0 412.6,96.0 430.8,103.0 457.2,111.0" fill="none" stroke="#8fd08f" stroke-width="0.9"/>
<use href="#gs" transform="translate(273.4,59.4) scale(1.00)"/>
<use href="#gs" transform="translate(278.6,40.7) scale(1.00)"/>
<use href="#gs" transform="translate(283.8,28.6) scale(1.00)"/>
<use href="#gs" transform="translate(288.8,25.4) scale(1.00)"/>
<use href="#gs" transform="translate(294.0,23.9) scale(1.00)"/>
<use href="#gs" transform="translate(299.4,24.9) scale(1.00)"/>
<use href="#gs" transform="translate(304.6,27.1) scale(1.00)"/>
<use href="#gs" transform="translate(309.8,30.6) scale(1.00)"/>
<use href="#gs" transform="translate(317.5,36.0) scale(1.00)"/>
<use href="#gs" transform="translate(328.0,45.1) scale(1.00)"/>
<use href="#gs" transform="translate(338.6,52.1) scale(1.00)"/>
<use href="#gs" transform="translate(349.2,61.2) scale(1.00)"/>
<use href="#gs" transform="translate(359.9,68.8) scale(1.00)"/>
<use href="#gs" transform="translate(370.4,77.1) scale(1.00)"/>
<use href="#gs" transform="translate(380.9,82.7) scale(1.00)"/>
<use href="#gs" transform="translate(391.5,87.9) scale(1.00)"/>
<use href="#gs" transform="translate(402.0,92.0) scale(1.00)"/>
<use href="#gs" transform="translate(412.6,96.0) scale(1.00)"/>
<use href="#gs" transform="translate(430.8,103.0) scale(1.00)"/>
<use href="#gs" transform="translate(457.2,111.0) scale(1.00)"/>
</g>
<g clip-path="url(#cb1)">
<polyline points="273.4,280.1 278.6,281.4 283.8,274.6 288.8,273.1 294.0,269.9 299.4,267.5 304.6,261.9 309.8,258.8 317.5,253.3 328.0,246.0 338.6,238.0 349.2,232.6 359.9,228.0 370.4,222.3 380.9,218.9 391.5,215.2 402.0,209.7 412.6,204.7 430.8,200.4 457.2,194.7" fill="none" stroke="#8fd08f" stroke-width="0.9"/>
<use href="#gs" transform="translate(273.4,280.1) scale(1.00)"/>
<use href="#gs" transform="translate(278.6,281.4) scale(1.00)"/>
<use href="#gs" transform="translate(283.8,274.6) scale(1.00)"/>
<use href="#gs" transform="translate(288.8,273.1) scale(1.00)"/>
<use href="#gs" transform="translate(294.0,269.9) scale(1.00)"/>
<use href="#gs" transform="translate(299.4,267.5) scale(1.00)"/>
<use href="#gs" transform="translate(304.6,261.9) scale(1.00)"/>
<use href="#gs" transform="translate(309.8,258.8) scale(1.00)"/>
<use href="#gs" transform="translate(317.5,253.3) scale(1.00)"/>
<use href="#gs" transform="translate(328.0,246.0) scale(1.00)"/>
<use href="#gs" transform="translate(338.6,238.0) scale(1.00)"/>
<use href="#gs" transform="translate(349.2,232.6) scale(1.00)"/>
<use href="#gs" transform="translate(359.9,228.0) scale(1.00)"/>
<use href="#gs" transform="translate(370.4,222.3) scale(1.00)"/>
<use href="#gs" transform="translate(380.9,218.9) scale(1.00)"/>
<use href="#gs" transform="translate(391.5,215.2) scale(1.00)"/>
<use href="#gs" transform="translate(402.0,209.7) scale(1.00)"/>
<use href="#gs" transform="translate(412.6,204.7) scale(1.00)"/>
<use href="#gs" transform="translate(430.8,200.4) scale(1.00)"/>
<use href="#gs" transform="translate(457.2,194.7) scale(1.00)"/>
</g>
<g>
<polyline points="506.5,73.1 511.3,46.5 516.0,32.5 520.6,24.0 525.1,20.1 529.7,18.4 534.4,19.4 539.0,20.3 546.2,25.0 555.3,33.9 564.6,41.4 573.8,50.3 583.1,57.4 592.5,64.0 601.7,70.4 611.1,75.8 620.2,81.6 629.4,87.1 645.7,93.9 669.0,103.2 692.4,109.7" fill="none" stroke="#8fd08f" stroke-width="0.9"/>
<use href="#gs" transform="translate(506.5,73.1) scale(1.00)"/>
<use href="#gs" transform="translate(511.3,46.5) scale(1.00)"/>
<use href="#gs" transform="translate(516.0,32.5) scale(1.00)"/>
<use href="#gs" transform="translate(520.6,24.0) scale(1.00)"/>
<use href="#gs" transform="translate(525.1,20.1) scale(1.00)"/>
<use href="#gs" transform="translate(529.7,18.4) scale(1.00)"/>
<use href="#gs" transform="translate(534.4,19.4) scale(1.00)"/>
<use href="#gs" transform="translate(539.0,20.3) scale(1.00)"/>
<use href="#gs" transform="translate(546.2,25.0) scale(1.00)"/>
<use href="#gs" transform="translate(555.3,33.9) scale(1.00)"/>
<use href="#gs" transform="translate(564.6,41.4) scale(1.00)"/>
<use href="#gs" transform="translate(573.8,50.3) scale(1.00)"/>
<use href="#gs" transform="translate(583.1,57.4) scale(1.00)"/>
<use href="#gs" transform="translate(592.5,64.0) scale(1.00)"/>
<use href="#gs" transform="translate(601.7,70.4) scale(1.00)"/>
<use href="#gs" transform="translate(611.1,75.8) scale(1.00)"/>
<use href="#gs" transform="translate(620.2,81.6) scale(1.00)"/>
<use href="#gs" transform="translate(629.4,87.1) scale(1.00)"/>
<use href="#gs" transform="translate(645.7,93.9) scale(1.00)"/>
<use href="#gs" transform="translate(669.0,103.2) scale(1.00)"/>
<use href="#gs" transform="translate(692.4,109.7) scale(1.00)"/>
</g>
<g clip-path="url(#cb2)">
<polyline points="506.5,278.1 511.3,278.6 516.0,279.0 520.6,274.4 525.1,271.6 529.7,267.9 534.4,264.2 539.0,261.4 546.2,255.8 555.3,248.2 564.6,241.2 573.8,234.9 583.1,227.9 592.5,221.9 601.7,216.6 611.1,212.6 620.2,207.0 629.4,203.7 645.7,198.9 669.0,191.4 692.4,186.4" fill="none" stroke="#8fd08f" stroke-width="0.9"/>
<use href="#gs" transform="translate(506.5,278.1) scale(1.00)"/>
<use href="#gs" transform="translate(511.3,278.6) scale(1.00)"/>
<use href="#gs" transform="translate(516.0,279.0) scale(1.00)"/>
<use href="#gs" transform="translate(520.6,274.4) scale(1.00)"/>
<use href="#gs" transform="translate(525.1,271.6) scale(1.00)"/>
<use href="#gs" transform="translate(529.7,267.9) scale(1.00)"/>
<use href="#gs" transform="translate(534.4,264.2) scale(1.00)"/>
<use href="#gs" transform="translate(539.0,261.4) scale(1.00)"/>
<use href="#gs" transform="translate(546.2,255.8) scale(1.00)"/>
<use href="#gs" transform="translate(555.3,248.2) scale(1.00)"/>
<use href="#gs" transform="translate(564.6,241.2) scale(1.00)"/>
<use href="#gs" transform="translate(573.8,234.9) scale(1.00)"/>
<use href="#gs" transform="translate(583.1,227.9) scale(1.00)"/>
<use href="#gs" transform="translate(592.5,221.9) scale(1.00)"/>
<use href="#gs" transform="translate(601.7,216.6) scale(1.00)"/>
<use href="#gs" transform="translate(611.1,212.6) scale(1.00)"/>
<use href="#gs" transform="translate(620.2,207.0) scale(1.00)"/>
<use href="#gs" transform="translate(629.4,203.7) scale(1.00)"/>
<use href="#gs" transform="translate(645.7,198.9) scale(1.00)"/>
<use href="#gs" transform="translate(669.0,191.4) scale(1.00)"/>
<use href="#gs" transform="translate(692.4,186.4) scale(1.00)"/>
</g>
<line x1="29.3" y1="172.3" x2="238.6" y2="172.3" stroke="#ff0000" stroke-width="1.6" stroke-dasharray="4.5,2,1.5,2" fill="none"/>
<line x1="260.2" y1="172.7" x2="470.2" y2="172.7" stroke="#ff0000" stroke-width="1.6" stroke-dasharray="4.5,2,1.5,2" fill="none"/>
<line x1="495" y1="163.7" x2="703.9" y2="163.7" stroke="#ff0000" stroke-width="1.6" stroke-dasharray="4.5,2,1.5,2" fill="none"/>
<path d="M29.3,1.7v2.8M29.3,147.7v-2.8M29.3,147.7v2.8M29.3,293.8v-2.8M71.2,1.7v2.8M71.2,147.7v-2.8M71.2,147.7v2.8M71.2,293.8v-2.8M113.1,1.7v2.8M113.1,147.7v-2.8M113.1,147.7v2.8M113.1,293.8v-2.8M154.9,1.7v2.8M154.9,147.7v-2.8M154.9,147.7v2.8M154.9,293.8v-2.8M196.8,1.7v2.8M196.8,147.7v-2.8M196.8,147.7v2.8M196.8,293.8v-2.8M238.7,1.7v2.8M238.7,147.7v-2.8M238.7,147.7v2.8M238.7,293.8v-2.8M50.2,1.7v1.7M50.2,147.7v-1.7M50.2,147.7v1.7M50.2,293.8v-1.7M92.1,1.7v1.7M92.1,147.7v-1.7M92.1,147.7v1.7M92.1,293.8v-1.7M134.0,1.7v1.7M134.0,147.7v-1.7M134.0,147.7v1.7M134.0,293.8v-1.7M175.9,1.7v1.7M175.9,147.7v-1.7M175.9,147.7v1.7M175.9,293.8v-1.7M217.8,1.7v1.7M217.8,147.7v-1.7M217.8,147.7v1.7M217.8,293.8v-1.7M29.3,115.0h2.8M238.6,115.0h-2.8M29.3,82.5h2.8M238.6,82.5h-2.8M29.3,50.0h2.8M238.6,50.0h-2.8M29.3,17.5h2.8M238.6,17.5h-2.8M29.3,253.2h2.8M238.6,253.2h-2.8M29.3,212.8h2.8M238.6,212.8h-2.8M29.3,172.4h2.8M238.6,172.4h-2.8M29.3,131.2h1.7M238.6,131.2h-1.7M29.3,98.7h1.7M238.6,98.7h-1.7M29.3,66.2h1.7M238.6,66.2h-1.7M29.3,33.7h1.7M238.6,33.7h-1.7M29.3,273.4h1.7M238.6,273.4h-1.7M29.3,233.0h1.7M238.6,233.0h-1.7M29.3,192.6h1.7M238.6,192.6h-1.7M29.3,152.2h1.7M238.6,152.2h-1.7" stroke="#6b6b6b" stroke-width="1.1" fill="none"/>
<rect x="29.3" y="1.7" width="209.3" height="292.1" fill="none" stroke="#6b6b6b" stroke-width="1.45"/><line x1="29.3" y1="147.7" x2="238.6" y2="147.7" stroke="#6b6b6b" stroke-width="1.45"/>
<path d="M260.2,0.8v2.8M260.2,147.8v-2.8M260.2,147.8v2.8M260.2,294.8v-2.8M312.7,0.8v2.8M312.7,147.8v-2.8M312.7,147.8v2.8M312.7,294.8v-2.8M365.2,0.8v2.8M365.2,147.8v-2.8M365.2,147.8v2.8M365.2,294.8v-2.8M417.7,0.8v2.8M417.7,147.8v-2.8M417.7,147.8v2.8M417.7,294.8v-2.8M470.2,0.8v2.8M470.2,147.8v-2.8M470.2,147.8v2.8M470.2,294.8v-2.8M286.4,0.8v1.7M286.4,147.8v-1.7M286.4,147.8v1.7M286.4,294.8v-1.7M338.9,0.8v1.7M338.9,147.8v-1.7M338.9,147.8v1.7M338.9,294.8v-1.7M391.4,0.8v1.7M391.4,147.8v-1.7M391.4,147.8v1.7M391.4,294.8v-1.7M443.9,0.8v1.7M443.9,147.8v-1.7M443.9,147.8v1.7M443.9,294.8v-1.7M260.2,115.3h2.8M470.1,115.3h-2.8M260.2,82.8h2.8M470.1,82.8h-2.8M260.2,50.2h2.8M470.1,50.2h-2.8M260.2,17.7h2.8M470.1,17.7h-2.8M260.2,264.0h2.8M470.1,264.0h-2.8M260.2,233.5h2.8M470.1,233.5h-2.8M260.2,203.1h2.8M470.1,203.1h-2.8M260.2,172.7h2.8M470.1,172.7h-2.8M260.2,131.6h1.7M470.1,131.6h-1.7M260.2,99.1h1.7M470.1,99.1h-1.7M260.2,66.5h1.7M470.1,66.5h-1.7M260.2,33.9h1.7M470.1,33.9h-1.7M260.2,279.2h1.7M470.1,279.2h-1.7M260.2,248.8h1.7M470.1,248.8h-1.7M260.2,218.3h1.7M470.1,218.3h-1.7M260.2,187.9h1.7M470.1,187.9h-1.7M260.2,157.5h1.7M470.1,157.5h-1.7" stroke="#6b6b6b" stroke-width="1.1" fill="none"/>
<rect x="260.2" y="0.8" width="209.9" height="294.0" fill="none" stroke="#6b6b6b" stroke-width="1.45"/><line x1="260.2" y1="147.85" x2="470.1" y2="147.85" stroke="#6b6b6b" stroke-width="1.45"/>
<path d="M494.9,0.8v2.8M494.9,147.4v-2.8M494.9,147.4v2.8M494.9,293.8v-2.8M536.7,0.8v2.8M536.7,147.4v-2.8M536.7,147.4v2.8M536.7,293.8v-2.8M578.5,0.8v2.8M578.5,147.4v-2.8M578.5,147.4v2.8M578.5,293.8v-2.8M620.3,0.8v2.8M620.3,147.4v-2.8M620.3,147.4v2.8M620.3,293.8v-2.8M662.1,0.8v2.8M662.1,147.4v-2.8M662.1,147.4v2.8M662.1,293.8v-2.8M703.9,0.8v2.8M703.9,147.4v-2.8M703.9,147.4v2.8M703.9,293.8v-2.8M515.8,0.8v1.7M515.8,147.4v-1.7M515.8,147.4v1.7M515.8,293.8v-1.7M557.6,0.8v1.7M557.6,147.4v-1.7M557.6,147.4v1.7M557.6,293.8v-1.7M599.4,0.8v1.7M599.4,147.4v-1.7M599.4,147.4v1.7M599.4,293.8v-1.7M641.2,0.8v1.7M641.2,147.4v-1.7M641.2,147.4v1.7M641.2,293.8v-1.7M683.0,0.8v1.7M683.0,147.4v-1.7M683.0,147.4v1.7M683.0,293.8v-1.7M495.1,114.8h2.8M703.9,114.8h-2.8M495.1,82.3h2.8M703.9,82.3h-2.8M495.1,49.8h2.8M703.9,49.8h-2.8M495.1,17.3h2.8M703.9,17.3h-2.8M495.1,261.2h2.8M703.9,261.2h-2.8M495.1,228.7h2.8M703.9,228.7h-2.8M495.1,196.2h2.8M703.9,196.2h-2.8M495.1,163.6h2.8M703.9,163.6h-2.8M495.1,131.0h1.7M703.9,131.0h-1.7M495.1,98.5h1.7M703.9,98.5h-1.7M495.1,66.0h1.7M703.9,66.0h-1.7M495.1,33.5h1.7M703.9,33.5h-1.7M495.1,277.5h1.7M703.9,277.5h-1.7M495.1,245.0h1.7M703.9,245.0h-1.7M495.1,212.4h1.7M703.9,212.4h-1.7M495.1,179.9h1.7M703.9,179.9h-1.7" stroke="#6b6b6b" stroke-width="1.1" fill="none"/>
<rect x="495.1" y="0.8" width="208.8" height="293.0" fill="none" stroke="#6b6b6b" stroke-width="1.45"/><line x1="495.1" y1="147.4" x2="703.9" y2="147.4" stroke="#6b6b6b" stroke-width="1.45"/>
<text x="26.3" y="150.0" font-size="7.3" text-anchor="end" font-weight="bold" font-style="normal" >0</text>
<text x="26.3" y="117.5" font-size="7.3" text-anchor="end" font-weight="bold" font-style="normal" >11</text>
<text x="26.3" y="85.0" font-size="7.3" text-anchor="end" font-weight="bold" font-style="normal" >22</text>
<text x="26.3" y="52.5" font-size="7.3" text-anchor="end" font-weight="bold" font-style="normal" >33</text>
<text x="26.3" y="20.0" font-size="7.3" text-anchor="end" font-weight="bold" font-style="normal" >44</text>
<text x="26.3" y="296.1" font-size="7.3" text-anchor="end" font-weight="bold" font-style="normal" >0.5</text>
<text x="26.3" y="255.7" font-size="7.3" text-anchor="end" font-weight="bold" font-style="normal" >1.0</text>
<text x="26.3" y="215.3" font-size="7.3" text-anchor="end" font-weight="bold" font-style="normal" >1.5</text>
<text x="26.3" y="174.9" font-size="7.3" text-anchor="end" font-weight="bold" font-style="normal" >2.0</text>
<text x="29.3" y="303.3" font-size="7.3" text-anchor="middle" font-weight="bold" font-style="normal" >0</text>
<text x="71.2" y="303.3" font-size="7.3" text-anchor="middle" font-weight="bold" font-style="normal" >6</text>
<text x="113.1" y="303.3" font-size="7.3" text-anchor="middle" font-weight="bold" font-style="normal" >12</text>
<text x="154.9" y="303.3" font-size="7.3" text-anchor="middle" font-weight="bold" font-style="normal" >18</text>
<text x="196.8" y="303.3" font-size="7.3" text-anchor="middle" font-weight="bold" font-style="normal" >24</text>
<text x="238.7" y="303.3" font-size="7.3" text-anchor="middle" font-weight="bold" font-style="normal" >30</text>
<text x="257.2" y="150.4" font-size="7.3" text-anchor="end" font-weight="bold" font-style="normal" >0</text>
<text x="257.2" y="117.8" font-size="7.3" text-anchor="end" font-weight="bold" font-style="normal" >4</text>
<text x="257.2" y="85.3" font-size="7.3" text-anchor="end" font-weight="bold" font-style="normal" >8</text>
<text x="257.2" y="52.7" font-size="7.3" text-anchor="end" font-weight="bold" font-style="normal" >12</text>
<text x="257.2" y="20.2" font-size="7.3" text-anchor="end" font-weight="bold" font-style="normal" >16</text>
<text x="257.2" y="296.9" font-size="7.3" text-anchor="end" font-weight="bold" font-style="normal" >0.0</text>
<text x="257.2" y="266.5" font-size="7.3" text-anchor="end" font-weight="bold" font-style="normal" >0.5</text>
<text x="257.2" y="236.0" font-size="7.3" text-anchor="end" font-weight="bold" font-style="normal" >1.0</text>
<text x="257.2" y="205.6" font-size="7.3" text-anchor="end" font-weight="bold" font-style="normal" >1.5</text>
<text x="257.2" y="175.2" font-size="7.3" text-anchor="end" font-weight="bold" font-style="normal" >2.0</text>
<text x="260.2" y="303.6" font-size="7.3" text-anchor="middle" font-weight="bold" font-style="normal" >0</text>
<text x="312.7" y="303.6" font-size="7.3" text-anchor="middle" font-weight="bold" font-style="normal" >10</text>
<text x="365.2" y="303.6" font-size="7.3" text-anchor="middle" font-weight="bold" font-style="normal" >20</text>
<text x="417.7" y="303.6" font-size="7.3" text-anchor="middle" font-weight="bold" font-style="normal" >30</text>
<text x="470.2" y="303.6" font-size="7.3" text-anchor="middle" font-weight="bold" font-style="normal" >40</text>
<text x="491.6" y="149.8" font-size="7.3" text-anchor="end" font-weight="bold" font-style="normal" >0.0</text>
<text x="491.6" y="117.3" font-size="7.3" text-anchor="end" font-weight="bold" font-style="normal" >3.5</text>
<text x="491.6" y="84.8" font-size="7.3" text-anchor="end" font-weight="bold" font-style="normal" >7.0</text>
<text x="491.6" y="52.3" font-size="7.3" text-anchor="end" font-weight="bold" font-style="normal" >10.5</text>
<text x="491.6" y="19.8" font-size="7.3" text-anchor="end" font-weight="bold" font-style="normal" >14.0</text>
<text x="491.6" y="296.3" font-size="7.3" text-anchor="end" font-weight="bold" font-style="normal" >0.0</text>
<text x="491.6" y="263.8" font-size="7.3" text-anchor="end" font-weight="bold" font-style="normal" >0.5</text>
<text x="491.6" y="231.2" font-size="7.3" text-anchor="end" font-weight="bold" font-style="normal" >1.0</text>
<text x="491.6" y="198.7" font-size="7.3" text-anchor="end" font-weight="bold" font-style="normal" >1.5</text>
<text x="491.6" y="166.1" font-size="7.3" text-anchor="end" font-weight="bold" font-style="normal" >2.0</text>
<text x="494.9" y="303.3" font-size="7.3" text-anchor="middle" font-weight="bold" font-style="normal" >0</text>
<text x="536.7" y="303.3" font-size="7.3" text-anchor="middle" font-weight="bold" font-style="normal" >9</text>
<text x="578.5" y="303.3" font-size="7.3" text-anchor="middle" font-weight="bold" font-style="normal" >18</text>
<text x="620.3" y="303.3" font-size="7.3" text-anchor="middle" font-weight="bold" font-style="normal" >27</text>
<text x="662.1" y="303.3" font-size="7.3" text-anchor="middle" font-weight="bold" font-style="normal" >36</text>
<text x="703.9" y="303.3" font-size="7.3" text-anchor="middle" font-weight="bold" font-style="normal" >45</text>
<text x="224.8" y="14.4" font-size="10" text-anchor="middle" font-weight="bold" font-style="normal" >(a)</text>
<text x="225.6" y="160.0" font-size="10" text-anchor="middle" font-weight="bold" font-style="normal" >(b)</text>
<text x="457.6" y="14.2" font-size="10" text-anchor="middle" font-weight="bold" font-style="normal" >(c)</text>
<text x="457.7" y="160.8" font-size="10" text-anchor="middle" font-weight="bold" font-style="normal" >(d)</text>
<text x="691.4" y="13.9" font-size="10" text-anchor="middle" font-weight="bold" font-style="normal" >(e)</text>
<text x="690.5" y="160.8" font-size="10" text-anchor="middle" font-weight="bold" font-style="normal" >(f)</text>
<text transform="translate(15.2,83.3) rotate(-90)" font-size="9.6" font-weight="bold" text-anchor="middle">-&#916;S<tspan font-size="6.5" dy="2.2">M</tspan><tspan dy="-2.2"> (J/kg&#183;K)</tspan></text>
<text transform="translate(11.2,227.7) rotate(-90)" font-size="10" font-weight="bold" font-style="italic" text-anchor="middle">n</text>
<text x="365.3" y="318.9" font-size="10.4" font-weight="bold" text-anchor="middle"><tspan font-style="italic">T</tspan> (K)</text>
<line x1="168.2" y1="224.5" x2="182.7" y2="224.5" stroke="#8fd08f" stroke-width="0.9" stroke-dasharray="3.2,1"/>
<use href="#gs" transform="translate(175.7,224.5) scale(1.10)"/>
<text x="184.6" y="227.1" font-size="7.7" text-anchor="start" font-weight="bold" font-style="normal" >0-70 kOe</text>
<line x1="168.2" y1="233.9" x2="182.7" y2="233.9" stroke="#9a9aff" stroke-width="0.9" stroke-dasharray="3.2,1"/>
<path d="M175.7,230.7L178.9,236.3L172.5,236.3Z" fill="#fff" stroke="#4646ff" stroke-width="1.04"/>
<text x="184.6" y="236.5" font-size="7.7" text-anchor="start" font-weight="bold" font-style="normal" >0-60 kOe</text>
<line x1="168.2" y1="243.2" x2="182.7" y2="243.2" stroke="#7d7dff" stroke-width="0.9" stroke-dasharray="3.2,1"/>
<path d="M175.7,239.8L178.9,245.9L172.5,245.9Z" fill="#0000ff"/>
<text x="184.6" y="245.8" font-size="7.7" text-anchor="start" font-weight="bold" font-style="normal" >0-50 kOe</text>
<line x1="168.2" y1="252.5" x2="182.7" y2="252.5" stroke="#d9a0a0" stroke-width="0.9" stroke-dasharray="3.2,1"/>
<circle cx="175.7" cy="252.5" r="2.70" fill="#fff" stroke="#b85a5a" stroke-width="1.04"/>
<text x="184.6" y="255.1" font-size="7.7" text-anchor="start" font-weight="bold" font-style="normal" >0-40 kOe</text>
<line x1="168.2" y1="261.8" x2="182.7" y2="261.8" stroke="#c88c8c" stroke-width="0.9" stroke-dasharray="3.2,1"/>
<circle cx="175.7" cy="261.8" r="3.08" fill="#7a0000"/>
<text x="184.6" y="264.4" font-size="7.7" text-anchor="start" font-weight="bold" font-style="normal" >0-30 kOe</text>
<line x1="168.2" y1="271.1" x2="182.7" y2="271.1" stroke="#9a9a9a" stroke-width="0.9" stroke-dasharray="3.2,1"/>
<rect x="173.2" y="268.6" width="5.1" height="5.1" fill="#fff" stroke="#3a3a3a" stroke-width="0.99"/>
<text x="184.6" y="273.7" font-size="7.7" text-anchor="start" font-weight="bold" font-style="normal" >0-20 kOe</text>
<line x1="168.2" y1="280.5" x2="182.7" y2="280.5" stroke="#8a8a8a" stroke-width="0.9" stroke-dasharray="3.2,1"/>
<rect x="172.8" y="277.6" width="5.7" height="5.7" fill="#000"/>
<text x="184.6" y="283.1" font-size="7.7" text-anchor="start" font-weight="bold" font-style="normal" >0-10 kOe</text>
<line x1="404.3" y1="225.8" x2="418.8" y2="225.8" stroke="#8fd08f" stroke-width="0.9" stroke-dasharray="3.2,1"/>
<use href="#gs" transform="translate(411.8,225.8) scale(1.10)"/>
<text x="420.9" y="228.4" font-size="7.7" text-anchor="start" font-weight="bold" font-style="normal" >0-70 kOe</text>
<line x1="404.3" y1="235.2" x2="418.8" y2="235.2" stroke="#9a9aff" stroke-width="0.9" stroke-dasharray="3.2,1"/>
<path d="M411.8,232.0L415.0,237.6L408.6,237.6Z" fill="#fff" stroke="#4646ff" stroke-width="1.04"/>
<text x="420.9" y="237.8" font-size="7.7" text-anchor="start" font-weight="bold" font-style="normal" >0-60 kOe</text>
<line x1="404.3" y1="244.5" x2="418.8" y2="244.5" stroke="#7d7dff" stroke-width="0.9" stroke-dasharray="3.2,1"/>
<path d="M411.8,241.1L415.0,247.2L408.6,247.2Z" fill="#0000ff"/>
<text x="420.9" y="247.1" font-size="7.7" text-anchor="start" font-weight="bold" font-style="normal" >0-50 kOe</text>
<line x1="404.3" y1="254.0" x2="418.8" y2="254.0" stroke="#d9a0a0" stroke-width="0.9" stroke-dasharray="3.2,1"/>
<circle cx="411.8" cy="254.0" r="2.70" fill="#fff" stroke="#b85a5a" stroke-width="1.04"/>
<text x="420.9" y="256.6" font-size="7.7" text-anchor="start" font-weight="bold" font-style="normal" >0-40 kOe</text>
<line x1="404.3" y1="263.3" x2="418.8" y2="263.3" stroke="#c88c8c" stroke-width="0.9" stroke-dasharray="3.2,1"/>
<circle cx="411.8" cy="263.3" r="3.08" fill="#7a0000"/>
<text x="420.9" y="265.9" font-size="7.7" text-anchor="start" font-weight="bold" font-style="normal" >0-30 kOe</text>
<line x1="404.3" y1="272.7" x2="418.8" y2="272.7" stroke="#9a9a9a" stroke-width="0.9" stroke-dasharray="3.2,1"/>
<rect x="409.3" y="270.2" width="5.1" height="5.1" fill="#fff" stroke="#3a3a3a" stroke-width="0.99"/>
<text x="420.9" y="275.3" font-size="7.7" text-anchor="start" font-weight="bold" font-style="normal" >0-20 kOe</text>
<line x1="404.3" y1="282.0" x2="418.8" y2="282.0" stroke="#8a8a8a" stroke-width="0.9" stroke-dasharray="3.2,1"/>
<rect x="408.9" y="279.1" width="5.7" height="5.7" fill="#000"/>
<text x="420.9" y="284.6" font-size="7.7" text-anchor="start" font-weight="bold" font-style="normal" >0-10 kOe</text>
<line x1="638.5" y1="225.7" x2="653.0" y2="225.7" stroke="#8fd08f" stroke-width="0.9" stroke-dasharray="3.2,1"/>
<use href="#gs" transform="translate(646.0,225.7) scale(1.10)"/>
<text x="655.4" y="228.3" font-size="7.7" text-anchor="start" font-weight="bold" font-style="normal" >0-70 kOe</text>
<line x1="638.5" y1="235.0" x2="653.0" y2="235.0" stroke="#9a9aff" stroke-width="0.9" stroke-dasharray="3.2,1"/>
<path d="M646.0,231.8L649.2,237.4L642.8,237.4Z" fill="#fff" stroke="#4646ff" stroke-width="1.04"/>
<text x="655.4" y="237.6" font-size="7.7" text-anchor="start" font-weight="bold" font-style="normal" >0-60 kOe</text>
<line x1="638.5" y1="244.4" x2="653.0" y2="244.4" stroke="#7d7dff" stroke-width="0.9" stroke-dasharray="3.2,1"/>
<path d="M646.0,241.0L649.2,247.1L642.8,247.1Z" fill="#0000ff"/>
<text x="655.4" y="247.0" font-size="7.7" text-anchor="start" font-weight="bold" font-style="normal" >0-50 kOe</text>
<line x1="638.5" y1="253.6" x2="653.0" y2="253.6" stroke="#d9a0a0" stroke-width="0.9" stroke-dasharray="3.2,1"/>
<circle cx="646.0" cy="253.6" r="2.70" fill="#fff" stroke="#b85a5a" stroke-width="1.04"/>
<text x="655.4" y="256.2" font-size="7.7" text-anchor="start" font-weight="bold" font-style="normal" >0-40 kOe</text>
<line x1="638.5" y1="262.9" x2="653.0" y2="262.9" stroke="#c88c8c" stroke-width="0.9" stroke-dasharray="3.2,1"/>
<circle cx="646.0" cy="262.9" r="3.08" fill="#7a0000"/>
<text x="655.4" y="265.5" font-size="7.7" text-anchor="start" font-weight="bold" font-style="normal" >0-30 kOe</text>
<line x1="638.5" y1="272.2" x2="653.0" y2="272.2" stroke="#9a9a9a" stroke-width="0.9" stroke-dasharray="3.2,1"/>
<rect x="643.5" y="269.7" width="5.1" height="5.1" fill="#fff" stroke="#3a3a3a" stroke-width="0.99"/>
<text x="655.4" y="274.8" font-size="7.7" text-anchor="start" font-weight="bold" font-style="normal" >0-20 kOe</text>
<line x1="638.5" y1="281.5" x2="653.0" y2="281.5" stroke="#8a8a8a" stroke-width="0.9" stroke-dasharray="3.2,1"/>
<rect x="643.1" y="278.6" width="5.7" height="5.7" fill="#000"/>
<text x="655.4" y="284.1" font-size="7.7" text-anchor="start" font-weight="bold" font-style="normal" >0-10 kOe</text>
<rect x="139.0" y="18.1" width="75.2" height="56.1" fill="#fff" stroke="#a8a8a8" stroke-width="0.8"/>
<path d="M139.0,74.2v-1.5M139.0,18.1v1.5M148.4,74.2v-1.5M148.4,18.1v1.5M157.8,74.2v-1.5M157.8,18.1v1.5M167.2,74.2v-1.5M167.2,18.1v1.5M176.5,74.2v-1.5M176.5,18.1v1.5M185.9,74.2v-1.5M185.9,18.1v1.5M195.3,74.2v-1.5M195.3,18.1v1.5M204.7,74.2v-1.5M204.7,18.1v1.5M214.0,74.2v-1.5M214.0,18.1v1.5M139.0,74.2h1.5M214.2,74.2h-1.5M139.0,58.2h1.5M214.2,58.2h-1.5M139.0,42.1h1.5M214.2,42.1h-1.5M139.0,26.1h1.5M214.2,26.1h-1.5" stroke="#a0a0a0" stroke-width="0.7"/>
<text x="139.0" y="80.5" font-size="5.6" text-anchor="middle" font-weight="bold" font-style="normal" >-1</text>
<text x="148.4" y="80.5" font-size="5.6" text-anchor="middle" font-weight="bold" font-style="normal" >0</text>
<text x="157.8" y="80.5" font-size="5.6" text-anchor="middle" font-weight="bold" font-style="normal" >1</text>
<text x="167.2" y="80.5" font-size="5.6" text-anchor="middle" font-weight="bold" font-style="normal" >2</text>
<text x="176.5" y="80.5" font-size="5.6" text-anchor="middle" font-weight="bold" font-style="normal" >3</text>
<text x="185.9" y="80.5" font-size="5.6" text-anchor="middle" font-weight="bold" font-style="normal" >4</text>
<text x="195.3" y="80.5" font-size="5.6" text-anchor="middle" font-weight="bold" font-style="normal" >5</text>
<text x="204.7" y="80.5" font-size="5.6" text-anchor="middle" font-weight="bold" font-style="normal" >6</text>
<text x="214.0" y="80.5" font-size="5.6" text-anchor="middle" font-weight="bold" font-style="normal" >7</text>
<text x="137.4" y="76.2" font-size="5.6" text-anchor="end" font-weight="bold" font-style="normal" >0.0</text>
<text x="137.4" y="60.2" font-size="5.6" text-anchor="end" font-weight="bold" font-style="normal" >0.3</text>
<text x="137.4" y="44.1" font-size="5.6" text-anchor="end" font-weight="bold" font-style="normal" >0.6</text>
<text x="137.4" y="28.1" font-size="5.6" text-anchor="end" font-weight="bold" font-style="normal" >0.9</text>
<polyline points="146.6,21.4 147.1,21.2 147.5,21.1 148.0,20.9 148.4,21.0 148.8,21.3 149.1,21.7 149.5,22.1 149.8,22.5 150.1,22.9 150.3,23.4 150.5,23.8 150.7,24.3 150.9,24.8 151.1,25.3 151.3,25.7 151.4,26.2 151.6,26.7 151.8,27.1 152.0,27.6 152.1,28.1 152.3,28.6 152.5,29.0 152.7,29.5 152.9,30.0 153.0,30.4 153.2,30.9 153.4,31.4 153.6,31.8 153.8,32.3 154.0,32.7 154.2,33.2 154.4,33.7 154.6,34.1 154.8,34.6 155.0,35.1 155.2,35.5 155.4,36.0 155.7,36.4 155.9,36.9 156.1,37.4 156.3,37.8 156.5,38.3 156.7,38.7 157.0,39.2 157.2,39.7 157.4,40.1 157.6,40.6 157.8,41.0 158.1,41.5 158.3,42.0 158.5,42.4 158.7,42.9 159.0,43.3 159.2,43.8 159.4,44.2 159.7,44.7 159.9,45.1 160.1,45.5 160.4,46.0 160.6,46.4 160.9,46.9 161.1,47.3 161.4,47.8 161.6,48.2 161.9,48.6 162.2,49.0 162.4,49.5 162.7,49.9 163.0,50.3 163.3,50.7 163.5,51.1 163.8,51.6 164.1,52.0 164.4,52.4 164.8,52.8 165.1,53.2 165.4,53.6 165.7,54.0 166.0,54.4 166.3,54.7 166.7,55.1 167.0,55.5 167.4,55.8 167.7,56.2 168.0,56.6 168.4,56.9 168.7,57.3 169.1,57.7 169.5,58.0 169.8,58.3 170.2,58.6 170.6,58.9 171.0,59.3 171.4,59.6 171.8,59.9 172.2,60.2 172.6,60.5 173.1,60.7 173.5,61.0 173.9,61.3 174.4,61.5 174.8,61.8 175.3,62.0 175.7,62.2 176.2,62.4 176.6,62.6 177.1,62.9 177.5,63.1 178.0,63.3 178.4,63.5 178.9,63.7 179.4,63.9 179.8,64.1 180.3,64.3 180.7,64.5 181.2,64.7 181.7,64.9 182.2,65.0 182.7,65.2 183.1,65.4 183.6,65.5 184.1,65.7 184.6,65.9 185.1,66.0 185.6,66.2 186.0,66.4 186.5,66.6 187.0,66.8 187.5,66.9 187.9,67.1 188.4,67.3 188.9,67.5 189.4,67.6 189.8,67.8 190.3,68.0 190.8,68.1 191.3,68.3 191.8,68.4 192.3,68.5 192.8,68.6 193.2,68.8" fill="none" stroke="#1010ff" stroke-width="1.7" stroke-linejoin="round"/>
<path d="M186.0,64.0L188.0,67.6L184.0,67.6Z" fill="#fff" stroke="#4646ff" stroke-width="0.66"/>
<path d="M188.5,65.0L190.5,68.5L186.5,68.5Z" fill="#fff" stroke="#4646ff" stroke-width="0.66"/>
<path d="M191.0,65.8L193.0,69.3L189.0,69.3Z" fill="#fff" stroke="#4646ff" stroke-width="0.66"/>
<circle cx="195.4" cy="68.7" r="2.02" fill="#fff" stroke="#b85a5a" stroke-width="0.78"/>
<circle cx="200.9" cy="69.5" r="2.31" fill="#7a0000"/>
<rect x="203.9" y="68.0" width="3.8" height="3.8" fill="#fff" stroke="#3a3a3a" stroke-width="0.74"/>
<rect x="208.5" y="68.0" width="3.8" height="3.8" fill="#fff" stroke="#3a3a3a" stroke-width="0.74"/>
<use href="#gs" transform="translate(142.9,22.6) scale(0.73)"/>
<use href="#gs" transform="translate(147.6,20.1) scale(0.60)"/>
<use href="#gs" transform="translate(149.6,22.1) scale(0.60)"/>
<use href="#gs" transform="translate(150.7,24.8) scale(0.60)"/>
<use href="#gs" transform="translate(151.7,27.6) scale(0.60)"/>
<use href="#gs" transform="translate(152.8,30.3) scale(0.60)"/>
<use href="#gs" transform="translate(154.0,33.0) scale(0.60)"/>
<use href="#gs" transform="translate(155.2,35.6) scale(0.60)"/>
<use href="#gs" transform="translate(156.4,38.3) scale(0.60)"/>
<use href="#gs" transform="translate(157.7,41.0) scale(0.60)"/>
<use href="#gs" transform="translate(159.0,43.6) scale(0.60)"/>
<use href="#gs" transform="translate(160.4,46.2) scale(0.60)"/>
<use href="#gs" transform="translate(161.9,48.7) scale(0.60)"/>
<use href="#gs" transform="translate(163.6,51.1) scale(0.60)"/>
<use href="#gs" transform="translate(165.4,53.4) scale(0.60)"/>
<use href="#gs" transform="translate(167.3,55.6) scale(0.60)"/>
<use href="#gs" transform="translate(169.4,57.6) scale(0.60)"/>
<use href="#gs" transform="translate(171.7,59.4) scale(0.60)"/>
<use href="#gs" transform="translate(174.2,60.9) scale(0.60)"/>
<use href="#gs" transform="translate(176.8,62.2) scale(0.60)"/>
<use href="#gs" transform="translate(179.5,63.4) scale(0.60)"/>
<use href="#gs" transform="translate(182.3,64.4) scale(0.60)"/>
<use href="#gs" transform="translate(185.1,65.4) scale(0.60)"/>
<use href="#gs" transform="translate(187.8,66.4) scale(0.60)"/>
<text transform="translate(124.8,54.8) rotate(-90)" font-size="7" font-weight="bold" text-anchor="middle">&#916;S<tspan font-size="4.4" dy="1.6">M</tspan><tspan dy="-1.6">/&#916;S</tspan><tspan font-size="4.4" dy="1.6">M</tspan><tspan font-size="4.4" dy="-4.6">max</tspan></text>
<text x="176.7" y="89.6" font-size="8" text-anchor="middle" font-weight="normal" font-style="italic" >&#952;</text>
<rect x="388.0" y="17.0" width="76.4" height="56.6" fill="#fff" stroke="#a8a8a8" stroke-width="0.8"/>
<path d="M388.0,73.6v-1.5M388.0,17.0v1.5M403.3,73.6v-1.5M403.3,17.0v1.5M418.6,73.6v-1.5M418.6,17.0v1.5M433.9,73.6v-1.5M433.9,17.0v1.5M449.2,73.6v-1.5M449.2,17.0v1.5M464.5,73.6v-1.5M464.5,17.0v1.5M388.0,73.6h1.5M464.4,73.6h-1.5M388.0,56.9h1.5M464.4,56.9h-1.5M388.0,40.1h1.5M464.4,40.1h-1.5M388.0,23.4h1.5M464.4,23.4h-1.5" stroke="#a0a0a0" stroke-width="0.7"/>
<text x="388.0" y="79.9" font-size="5.6" text-anchor="middle" font-weight="bold" font-style="normal" >-2</text>
<text x="403.3" y="79.9" font-size="5.6" text-anchor="middle" font-weight="bold" font-style="normal" >0</text>
<text x="418.6" y="79.9" font-size="5.6" text-anchor="middle" font-weight="bold" font-style="normal" >2</text>
<text x="433.9" y="79.9" font-size="5.6" text-anchor="middle" font-weight="bold" font-style="normal" >4</text>
<text x="449.2" y="79.9" font-size="5.6" text-anchor="middle" font-weight="bold" font-style="normal" >6</text>
<text x="464.5" y="79.9" font-size="5.6" text-anchor="middle" font-weight="bold" font-style="normal" >8</text>
<text x="386.4" y="75.6" font-size="5.6" text-anchor="end" font-weight="bold" font-style="normal" >0.0</text>
<text x="386.4" y="58.9" font-size="5.6" text-anchor="end" font-weight="bold" font-style="normal" >0.3</text>
<text x="386.4" y="42.1" font-size="5.6" text-anchor="end" font-weight="bold" font-style="normal" >0.6</text>
<text x="386.4" y="25.4" font-size="5.6" text-anchor="end" font-weight="bold" font-style="normal" >0.9</text>
<polyline points="395.5,36.6 395.6,36.1 395.7,35.6 395.8,35.1 395.9,34.6 396.1,34.1 396.2,33.7 396.3,33.2 396.4,32.7 396.5,32.2 396.6,31.7 396.7,31.2 396.8,30.7 397.0,30.2 397.2,29.8 397.4,29.3 397.5,28.8 397.7,28.3 397.9,27.9 398.0,27.4 398.2,26.9 398.4,26.4 398.6,26.0 398.7,25.5 398.9,25.0 399.1,24.6 399.3,24.1 399.5,23.6 399.7,23.2 399.9,22.7 400.1,22.3 400.4,21.8 400.6,21.4 400.8,20.9 401.0,20.5 401.3,20.1 401.6,19.6 401.9,19.2 402.2,18.8 402.5,18.4 402.8,18.8 403.1,19.2 403.5,19.6 403.8,19.9 404.1,20.3 404.4,20.7 404.7,21.2 404.8,21.6 405.0,22.1 405.2,22.6 405.4,23.0 405.6,23.5 405.8,24.0 406.0,24.4 406.2,24.9 406.3,25.4 406.5,25.9 406.7,26.3 406.8,26.8 407.0,27.3 407.2,27.7 407.4,28.2 407.5,28.7 407.7,29.2 407.9,29.6 408.0,30.1 408.2,30.6 408.4,31.1 408.5,31.5 408.7,32.0 408.9,32.5 409.0,33.0 409.2,33.5 409.4,34.0 409.5,34.4 409.7,34.9 409.9,35.4 410.0,35.9 410.2,36.4 410.3,36.8 410.5,37.3 410.7,37.8 410.8,38.3 411.0,38.8 411.1,39.2 411.3,39.7 411.5,40.2 411.6,40.7 411.8,41.1 412.0,41.6 412.2,42.1 412.3,42.6 412.5,43.1 412.7,43.5 412.9,44.0 413.0,44.5 413.3,44.9 413.5,45.4 413.7,45.9 413.9,46.3 414.2,46.8 414.4,47.2 414.6,47.7 414.8,48.2 415.1,48.6 415.3,49.1 415.5,49.5 415.8,49.9 416.0,50.4 416.2,50.8 416.5,51.3 416.7,51.7 417.0,52.2 417.2,52.6 417.5,53.0 417.8,53.4 418.1,53.8 418.4,54.2 418.7,54.6 419.0,55.0 419.3,55.4 419.6,55.8 419.9,56.2 420.3,56.6 420.6,56.9 421.0,57.3 421.3,57.7 421.7,58.1 422.0,58.5 422.3,58.8 422.7,59.2 423.1,59.6 423.4,59.9 423.8,60.3 424.1,60.6 424.5,61.0 424.9,61.3 425.3,61.6 425.7,61.9 426.1,62.2 426.5,62.5 426.9,62.8" fill="none" stroke="#1010ff" stroke-width="1.7" stroke-linejoin="round"/>
<path d="M423.3,58.4L425.4,62.3L421.2,62.3Z" fill="#0000ff"/>
<path d="M426.4,60.5L428.4,64.0L424.4,64.0Z" fill="#fff" stroke="#4646ff" stroke-width="0.66"/>
<circle cx="429.0" cy="64.0" r="1.72" fill="#fff" stroke="#b85a5a" stroke-width="0.66"/>
<circle cx="431.8" cy="65.4" r="1.72" fill="#fff" stroke="#b85a5a" stroke-width="0.66"/>
<circle cx="435.6" cy="66.4" r="1.96" fill="#7a0000"/>
<circle cx="438.2" cy="66.9" r="1.72" fill="#fff" stroke="#b85a5a" stroke-width="0.66"/>
<circle cx="441.3" cy="67.7" r="1.96" fill="#7a0000"/>
<rect x="443.0" y="66.6" width="3.6" height="3.6" fill="#000"/>
<rect x="447.1" y="67.4" width="3.2" height="3.2" fill="#fff" stroke="#3a3a3a" stroke-width="0.63"/>
<rect x="450.4" y="67.6" width="3.6" height="3.6" fill="#000"/>
<use href="#gs" transform="translate(396.2,35.8) scale(0.60)"/>
<use href="#gs" transform="translate(396.8,32.9) scale(0.60)"/>
<use href="#gs" transform="translate(397.5,30.1) scale(0.60)"/>
<use href="#gs" transform="translate(398.5,27.3) scale(0.60)"/>
<use href="#gs" transform="translate(399.5,24.6) scale(0.60)"/>
<use href="#gs" transform="translate(400.6,21.9) scale(0.60)"/>
<use href="#gs" transform="translate(402.0,19.3) scale(0.60)"/>
<use href="#gs" transform="translate(403.7,18.2) scale(0.60)"/>
<use href="#gs" transform="translate(405.4,20.6) scale(0.60)"/>
<use href="#gs" transform="translate(406.5,23.3) scale(0.60)"/>
<use href="#gs" transform="translate(407.5,26.0) scale(0.60)"/>
<use href="#gs" transform="translate(408.5,28.7) scale(0.60)"/>
<use href="#gs" transform="translate(409.5,31.5) scale(0.60)"/>
<use href="#gs" transform="translate(410.5,34.3) scale(0.60)"/>
<use href="#gs" transform="translate(411.4,37.1) scale(0.60)"/>
<use href="#gs" transform="translate(412.3,39.9) scale(0.60)"/>
<use href="#gs" transform="translate(413.4,42.6) scale(0.60)"/>
<use href="#gs" transform="translate(414.5,45.3) scale(0.60)"/>
<use href="#gs" transform="translate(415.8,48.0) scale(0.60)"/>
<use href="#gs" transform="translate(417.2,50.6) scale(0.60)"/>
<use href="#gs" transform="translate(418.8,53.0) scale(0.60)"/>
<use href="#gs" transform="translate(420.6,55.3) scale(0.60)"/>
<path d="M397.2,29.7L399.1,33.0L395.3,33.0Z" fill="#fff" stroke="#4646ff" stroke-width="0.63"/>
<circle cx="397.7" cy="28.9" r="1.67" fill="#7a0000"/>
<rect x="397.8" y="18.9" width="2.0" height="2.0" fill="#000"/>
<text transform="translate(372.9,51.7) rotate(-90)" font-size="7" font-weight="bold" text-anchor="middle">&#916;S<tspan font-size="4.4" dy="1.6">M</tspan><tspan dy="-1.6">/&#916;S</tspan><tspan font-size="4.4" dy="1.6">M</tspan><tspan font-size="4.4" dy="-4.6">max</tspan></text>
<text x="427.0" y="86.2" font-size="8" text-anchor="middle" font-weight="normal" font-style="italic" >&#952;</text>
<rect x="625.0" y="17.5" width="76.0" height="56.3" fill="#fff" stroke="#a8a8a8" stroke-width="0.8"/>
<path d="M625.0,73.8v-1.5M625.0,17.5v1.5M640.0,73.8v-1.5M640.0,17.5v1.5M655.0,73.8v-1.5M655.0,17.5v1.5M670.0,73.8v-1.5M670.0,17.5v1.5M685.0,73.8v-1.5M685.0,17.5v1.5M700.0,73.8v-1.5M700.0,17.5v1.5M625.0,73.8h1.5M701.0,73.8h-1.5M625.0,57.1h1.5M701.0,57.1h-1.5M625.0,40.3h1.5M701.0,40.3h-1.5M625.0,23.6h1.5M701.0,23.6h-1.5" stroke="#a0a0a0" stroke-width="0.7"/>
<text x="625.0" y="80.1" font-size="5.6" text-anchor="middle" font-weight="bold" font-style="normal" >-2</text>
<text x="640.0" y="80.1" font-size="5.6" text-anchor="middle" font-weight="bold" font-style="normal" >0</text>
<text x="655.0" y="80.1" font-size="5.6" text-anchor="middle" font-weight="bold" font-style="normal" >2</text>
<text x="670.0" y="80.1" font-size="5.6" text-anchor="middle" font-weight="bold" font-style="normal" >4</text>
<text x="685.0" y="80.1" font-size="5.6" text-anchor="middle" font-weight="bold" font-style="normal" >6</text>
<text x="700.0" y="80.1" font-size="5.6" text-anchor="middle" font-weight="bold" font-style="normal" >8</text>
<text x="623.4" y="75.8" font-size="5.6" text-anchor="end" font-weight="bold" font-style="normal" >0.0</text>
<text x="623.4" y="59.1" font-size="5.6" text-anchor="end" font-weight="bold" font-style="normal" >0.3</text>
<text x="623.4" y="42.3" font-size="5.6" text-anchor="end" font-weight="bold" font-style="normal" >0.6</text>
<text x="623.4" y="25.6" font-size="5.6" text-anchor="end" font-weight="bold" font-style="normal" >0.9</text>
<polyline points="630.8,41.5 630.9,41.0 631.0,40.5 631.1,40.0 631.1,39.5 631.2,39.0 631.3,38.5 631.4,38.0 631.5,37.5 631.6,37.0 631.7,36.5 631.8,36.0 631.9,35.5 632.0,35.0 632.1,34.5 632.3,34.1 632.4,33.6 632.5,33.1 632.6,32.6 632.7,32.1 632.9,31.6 633.0,31.1 633.2,30.6 633.3,30.2 633.5,29.7 633.7,29.2 633.8,28.7 634.0,28.2 634.1,27.7 634.3,27.3 634.4,26.8 634.6,26.3 634.8,25.8 635.0,25.4 635.2,24.9 635.4,24.4 635.6,24.0 635.8,23.5 636.0,23.1 636.2,22.6 636.4,22.1 636.6,21.7 636.9,21.2 637.2,20.9 637.6,20.5 637.9,20.2 638.3,19.8 638.6,19.5 639.0,19.1 639.4,18.7 639.7,18.9 639.9,19.3 640.2,19.7 640.4,20.2 640.7,20.6 640.9,21.0 641.2,21.5 641.3,22.0 641.4,22.5 641.6,22.9 641.7,23.4 641.8,23.9 642.0,24.4 642.1,24.9 642.2,25.4 642.4,25.8 642.5,26.3 642.6,26.8 642.8,27.3 642.9,27.8 643.1,28.3 643.2,28.7 643.4,29.2 643.5,29.7 643.7,30.2 643.8,30.7 644.0,31.1 644.1,31.6 644.2,32.1 644.4,32.6 644.5,33.1 644.7,33.5 644.8,34.0 645.0,34.5 645.1,35.0 645.3,35.5 645.4,36.0 645.6,36.4 645.7,36.9 645.9,37.4 646.0,37.9 646.2,38.4 646.3,38.8 646.5,39.3 646.6,39.8 646.8,40.3 646.9,40.8 647.1,41.2 647.2,41.7 647.4,42.2 647.5,42.7 647.7,43.1 647.9,43.6 648.0,44.1 648.2,44.6 648.3,45.1 648.5,45.5 648.7,46.0 648.8,46.5 649.0,46.9 649.3,47.4 649.5,47.9 649.7,48.3 649.9,48.8 650.1,49.2 650.3,49.7 650.5,50.2 650.7,50.6 650.9,51.1 651.2,51.5 651.4,51.9 651.7,52.4 651.9,52.8 652.2,53.3 652.4,53.7 652.7,54.2 652.9,54.6 653.2,55.0 653.5,55.4 653.7,55.9 654.0,56.3 654.3,56.7 654.6,57.1 654.9,57.5 655.1,57.9 655.4,58.4 655.8,58.7 656.1,59.1 656.4,59.5 656.7,59.9 657.1,60.2 657.4,60.6 657.7,61.0 658.1,61.4 658.5,61.7 658.9,62.0 659.2,62.3 659.6,62.6 660.0,62.9 660.4,63.2 660.8,63.5 661.3,63.8 661.7,64.0 662.1,64.2 662.6,64.5 663.0,64.8 663.5,64.9 664.0,65.1 664.4,65.3 664.9,65.5 665.4,65.7 665.9,65.9 666.3,66.0 666.8,66.2 667.3,66.4 667.8,66.5 668.3,66.7 668.8,66.8 669.3,67.0 669.7,67.1 670.2,67.3 670.7,67.4 671.2,67.6 671.7,67.7 672.2,67.8 672.7,67.9 673.2,68.1 673.7,68.2 674.1,68.3 674.6,68.4 675.1,68.6" fill="none" stroke="#1010ff" stroke-width="1.7" stroke-linejoin="round"/>
<path d="M660.6,59.4L662.7,63.3L658.5,63.3Z" fill="#0000ff"/>
<path d="M664.3,61.4L666.4,65.3L662.2,65.3Z" fill="#0000ff"/>
<circle cx="667.8" cy="65.3" r="1.72" fill="#fff" stroke="#b85a5a" stroke-width="0.66"/>
<circle cx="671.0" cy="66.6" r="1.72" fill="#fff" stroke="#b85a5a" stroke-width="0.66"/>
<circle cx="675.2" cy="68.0" r="1.96" fill="#7a0000"/>
<rect x="676.8" y="67.1" width="3.2" height="3.2" fill="#fff" stroke="#3a3a3a" stroke-width="0.63"/>
<rect x="681.6" y="67.9" width="3.2" height="3.2" fill="#fff" stroke="#3a3a3a" stroke-width="0.63"/>
<rect x="688.5" y="68.7" width="3.2" height="3.2" fill="#fff" stroke="#3a3a3a" stroke-width="0.63"/>
<rect x="696.3" y="69.3" width="3.8" height="3.8" fill="#000"/>
<use href="#gs" transform="translate(631.2,42.6) scale(0.60)"/>
<use href="#gs" transform="translate(631.7,39.7) scale(0.60)"/>
<use href="#gs" transform="translate(632.2,36.8) scale(0.60)"/>
<use href="#gs" transform="translate(632.8,33.9) scale(0.60)"/>
<use href="#gs" transform="translate(633.5,31.1) scale(0.60)"/>
<use href="#gs" transform="translate(634.4,28.3) scale(0.60)"/>
<use href="#gs" transform="translate(635.3,25.5) scale(0.60)"/>
<use href="#gs" transform="translate(636.5,22.8) scale(0.60)"/>
<use href="#gs" transform="translate(637.8,20.2) scale(0.60)"/>
<use href="#gs" transform="translate(639.8,18.2) scale(0.60)"/>
<use href="#gs" transform="translate(641.4,19.9) scale(0.60)"/>
<use href="#gs" transform="translate(642.4,22.6) scale(0.60)"/>
<use href="#gs" transform="translate(643.2,25.4) scale(0.60)"/>
<use href="#gs" transform="translate(644.0,28.2) scale(0.60)"/>
<use href="#gs" transform="translate(644.9,31.0) scale(0.60)"/>
<use href="#gs" transform="translate(645.7,33.8) scale(0.60)"/>
<use href="#gs" transform="translate(646.6,36.6) scale(0.60)"/>
<use href="#gs" transform="translate(647.4,39.4) scale(0.60)"/>
<use href="#gs" transform="translate(648.3,42.2) scale(0.60)"/>
<use href="#gs" transform="translate(649.3,44.9) scale(0.60)"/>
<use href="#gs" transform="translate(650.4,47.6) scale(0.60)"/>
<use href="#gs" transform="translate(651.6,50.3) scale(0.60)"/>
<use href="#gs" transform="translate(653.1,52.8) scale(0.60)"/>
<use href="#gs" transform="translate(654.6,55.3) scale(0.60)"/>
<use href="#gs" transform="translate(656.3,57.7) scale(0.60)"/>
<path d="M632.4,36.5L634.4,40.2L630.4,40.2Z" fill="#0000ff"/>
<circle cx="633.3" cy="35.0" r="1.76" fill="#7a0000"/>
<text transform="translate(612.2,51.3) rotate(-90)" font-size="7" font-weight="bold" text-anchor="middle">&#916;S<tspan font-size="4.4" dy="1.6">M</tspan><tspan dy="-1.6">/&#916;S</tspan><tspan font-size="4.4" dy="1.6">M</tspan><tspan font-size="4.4" dy="-4.6">max</tspan></text>
<text x="663.7" y="86.6" font-size="8" text-anchor="middle" font-weight="normal" font-style="italic" >&#952;</text>
</g>
</svg>
</body></html>
